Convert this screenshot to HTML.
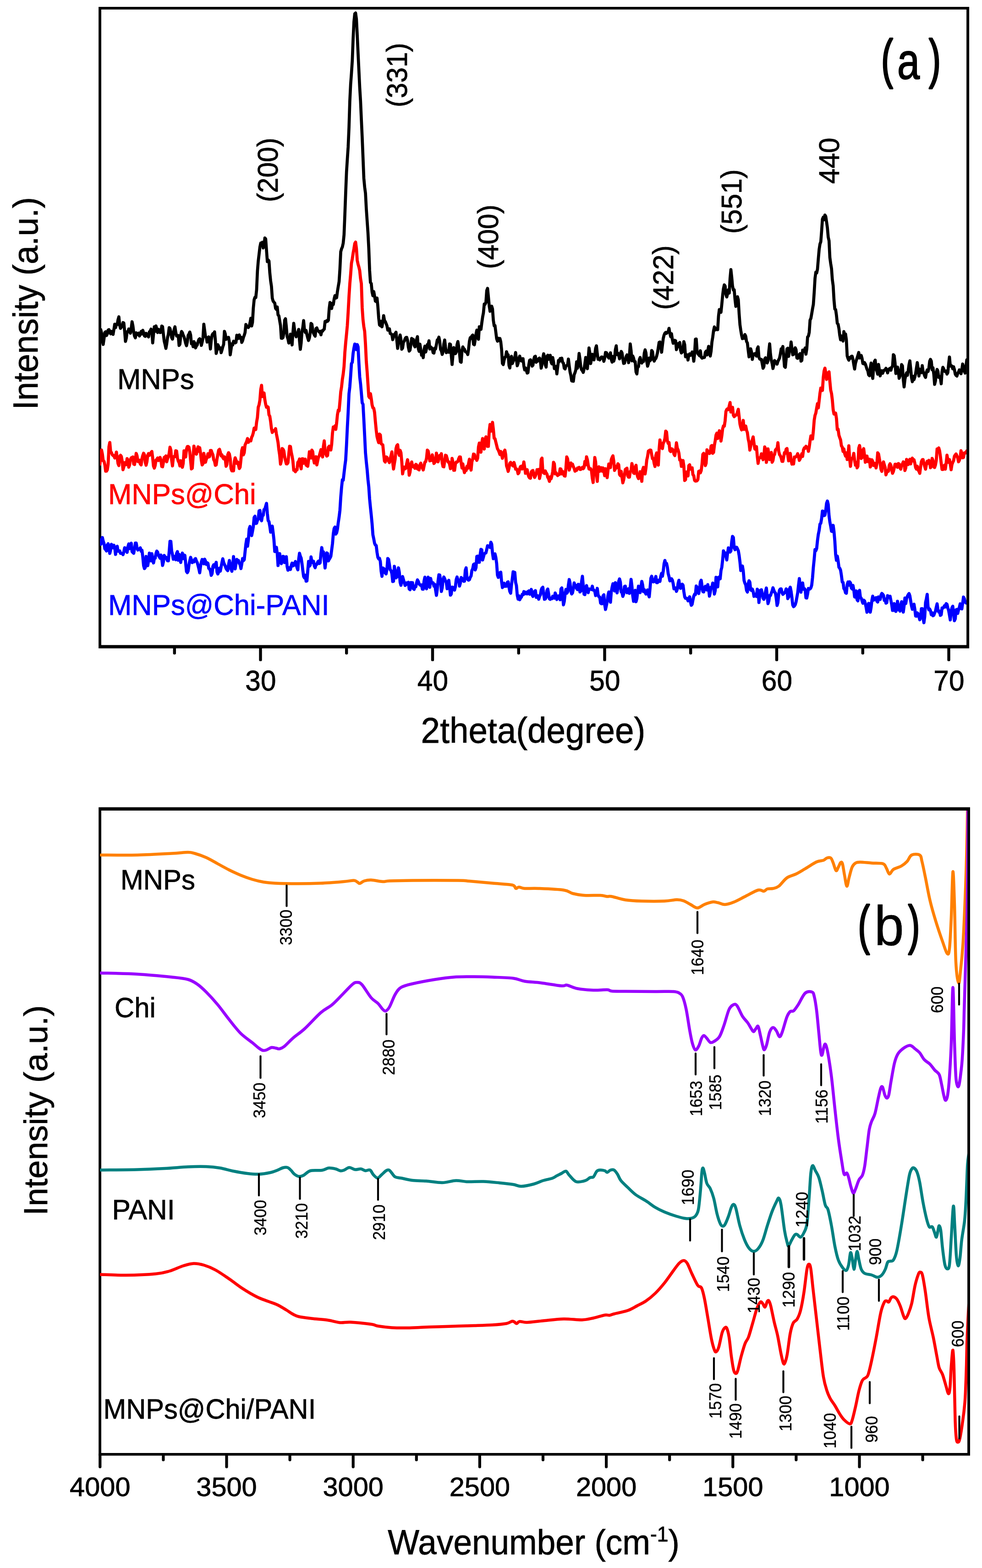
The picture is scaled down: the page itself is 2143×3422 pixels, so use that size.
<!DOCTYPE html>
<html lang="en"><head><meta charset="utf-8"><title>XRD and FTIR</title>
<style>html,body{margin:0;padding:0;background:#fff}body{width:2143px;height:3422px;overflow:hidden}svg{display:block}text{font-family:'Liberation Sans', sans-serif}</style>
</head><body>
<svg width="2143" height="3422" viewBox="0 0 2143 3422">
<rect width="2143" height="3422" fill="#fff"/>
<g id="xrd">
<path d="M215.1,14.9H2115.1V1415.0H215.1Z M221.0,20.8H2109.1V1407.7H221.0Z" fill="#000" fill-rule="evenodd"/>
<clipPath id="ca"><rect x="218.0" y="20.8" width="1891.1" height="1386.9"/></clipPath>
<g clip-path="url(#ca)" fill="none" stroke-linejoin="round" stroke-linecap="round">
<polyline points="218.0,1178.1 219.8,1187.9 221.6,1185.5 223.4,1173.1 225.2,1181.0 227.0,1186.1 228.8,1197.6 230.6,1199.5 232.4,1202.4 234.2,1189.2 236.0,1186.7 237.8,1197.3 239.6,1207.7 241.4,1200.5 243.2,1187.9 245.0,1193.8 246.8,1195.3 248.6,1190.0 250.4,1196.0 252.2,1210.0 254.0,1198.7 255.8,1192.1 257.6,1202.9 259.4,1203.1 261.2,1202.2 263.0,1207.6 264.8,1207.6 266.6,1207.8 268.4,1210.4 270.2,1204.5 272.0,1195.4 273.8,1196.5 275.6,1201.7 277.4,1205.4 279.2,1193.1 281.0,1187.0 282.8,1197.4 284.6,1187.8 286.4,1185.7 288.2,1203.7 290.0,1205.8 291.8,1207.5 293.6,1197.2 295.4,1185.1 297.2,1185.2 299.0,1195.5 300.8,1200.4 302.6,1198.7 304.4,1198.4 306.2,1195.7 308.0,1203.0 309.8,1200.9 311.6,1215.1 313.4,1234.3 315.2,1240.9 317.0,1238.4 318.8,1214.4 320.6,1224.5 322.4,1234.5 324.2,1222.9 326.0,1207.2 327.8,1216.2 329.6,1224.1 331.4,1208.3 333.2,1218.9 335.0,1228.5 336.8,1219.0 338.6,1218.3 340.4,1208.0 342.2,1202.7 344.0,1205.1 345.8,1211.8 347.6,1215.1 349.4,1218.2 351.2,1211.2 353.0,1219.1 354.8,1234.1 356.6,1226.3 358.4,1212.1 360.2,1217.1 362.0,1216.0 363.8,1219.8 365.6,1223.9 367.4,1223.9 369.2,1204.1 371.0,1181.5 372.8,1181.6 374.6,1202.4 376.4,1210.6 378.2,1220.5 380.0,1217.3 381.8,1214.2 383.6,1221.6 385.4,1207.8 387.2,1203.8 389.0,1222.6 390.8,1209.9 392.6,1219.3 394.4,1227.6 396.2,1215.9 398.0,1207.0 399.8,1219.1 401.6,1211.3 403.4,1212.1 405.2,1229.4 407.0,1247.3 408.8,1249.8 410.6,1246.3 412.4,1232.6 414.2,1223.8 416.0,1216.3 417.8,1221.5 419.6,1227.7 421.4,1225.5 423.2,1226.2 425.0,1220.4 426.8,1219.0 428.6,1224.3 430.4,1227.6 432.2,1234.2 434.0,1241.3 435.8,1250.1 437.6,1236.4 439.4,1226.5 441.2,1220.9 443.0,1228.1 444.8,1230.3 446.6,1220.4 448.4,1224.4 450.2,1231.8 452.0,1228.1 453.8,1229.4 455.6,1240.7 457.4,1241.4 459.2,1245.9 461.0,1255.6 462.8,1252.0 464.6,1236.2 466.4,1232.5 468.2,1237.4 470.0,1232.1 471.8,1227.2 473.6,1248.3 475.4,1252.6 477.2,1248.2 479.0,1240.0 480.8,1246.4 482.6,1236.9 484.4,1227.6 486.2,1219.5 488.0,1227.1 489.8,1231.9 491.6,1235.4 493.4,1240.7 495.2,1243.4 497.0,1245.3 498.8,1232.6 500.6,1223.2 502.4,1231.6 504.2,1241.5 506.0,1246.7 507.8,1235.1 509.6,1214.7 511.4,1230.3 513.2,1241.5 515.0,1230.2 516.8,1220.9 518.6,1223.2 520.4,1223.2 522.2,1229.4 524.0,1232.8 525.8,1240.9 527.6,1231.0 529.4,1219.0 531.2,1223.5 533.0,1221.3 534.8,1204.3 536.6,1187.5 538.4,1176.6 540.2,1192.0 542.0,1178.3 543.8,1154.6 545.6,1148.9 547.4,1164.1 549.2,1168.9 551.0,1159.6 552.8,1149.3 554.6,1129.4 556.4,1126.7 558.2,1142.4 560.0,1141.9 561.8,1135.6 563.6,1132.8 565.4,1114.8 567.2,1114.1 569.0,1130.7 570.8,1136.5 572.6,1125.2 574.4,1124.5 576.2,1112.1 578.0,1110.9 579.8,1104.8 581.6,1098.4 583.4,1120.3 585.2,1136.3 587.0,1138.3 588.8,1148.6 590.6,1161.4 592.4,1150.0 594.2,1148.3 596.0,1162.3 597.8,1177.9 599.6,1203.5 601.4,1203.4 603.2,1194.4 605.0,1207.6 606.8,1234.2 608.6,1214.2 610.4,1208.3 612.2,1221.1 614.0,1230.1 615.8,1225.1 617.6,1214.2 619.4,1214.7 621.2,1227.7 623.0,1222.1 624.8,1214.9 626.6,1236.6 628.4,1244.4 630.2,1238.7 632.0,1240.2 633.8,1242.8 635.6,1234.1 637.4,1229.0 639.2,1234.9 641.0,1229.8 642.8,1233.2 644.6,1225.4 646.4,1230.2 648.2,1238.7 650.0,1243.5 651.8,1220.4 653.6,1207.4 655.4,1214.0 657.2,1218.0 659.0,1229.7 660.8,1244.8 662.6,1258.0 664.4,1261.2 666.2,1255.2 668.0,1268.3 669.8,1268.0 671.6,1246.1 673.4,1225.1 675.2,1235.6 677.0,1233.2 678.8,1215.5 680.6,1226.2 682.4,1227.8 684.2,1224.8 686.0,1235.3 687.8,1238.9 689.6,1231.6 691.4,1231.7 693.2,1226.9 695.0,1224.5 696.8,1229.7 698.6,1228.3 700.4,1208.7 702.2,1195.0 704.0,1207.5 705.8,1204.4 707.6,1222.2 709.4,1239.6 711.2,1224.7 713.0,1206.7 714.8,1207.9 716.6,1224.2 718.4,1220.6 720.2,1217.8 722.0,1214.1 723.8,1200.3 725.6,1186.4 727.4,1164.5 729.2,1153.4 731.0,1150.3 732.8,1165.5 734.6,1162.9 736.4,1154.8 738.2,1140.4 740.0,1128.6 741.8,1113.8 743.6,1085.4 745.4,1063.7 747.2,1047.2 749.0,1048.1 750.8,1032.3 752.6,1016.9 754.4,1003.5 756.2,971.0 758.0,932.8 759.8,899.5 761.6,859.4 763.4,844.1 765.2,820.1 767.0,793.5 768.8,790.7 770.6,771.0 772.4,759.6 774.2,750.9 776.0,758.5 777.8,762.9 779.6,752.0 781.4,757.0 783.2,791.6 785.0,822.3 786.8,837.3 788.6,857.7 790.4,879.0 792.2,882.3 794.0,915.6 795.8,951.3 797.6,988.3 799.4,1008.0 801.2,1024.9 803.0,1046.4 804.8,1062.6 806.6,1089.0 808.4,1107.3 810.2,1124.4 812.0,1143.2 813.8,1167.3 815.6,1175.7 817.4,1185.5 819.2,1189.5 821.0,1190.7 822.8,1205.5 824.6,1216.3 826.4,1219.5 828.2,1218.6 830.0,1225.4 831.8,1246.9 833.6,1257.8 835.4,1239.7 837.2,1240.5 839.0,1242.7 840.8,1250.4 842.6,1252.4 844.4,1242.3 846.2,1218.8 848.0,1220.9 849.8,1232.4 851.6,1243.4 853.4,1245.3 855.2,1252.1 857.0,1269.2 858.8,1268.5 860.6,1236.0 862.4,1246.1 864.2,1261.1 866.0,1259.3 867.8,1249.6 869.6,1239.3 871.4,1248.8 873.2,1270.8 875.0,1277.3 876.8,1267.5 878.6,1258.3 880.4,1264.8 882.2,1271.0 884.0,1277.6 885.8,1276.0 887.6,1272.0 889.4,1272.7 891.2,1270.9 893.0,1285.5 894.8,1287.0 896.6,1271.3 898.4,1271.8 900.2,1271.6 902.0,1284.7 903.8,1286.3 905.6,1279.0 907.4,1280.5 909.2,1271.8 911.0,1265.6 912.8,1268.7 914.6,1274.1 916.4,1276.4 918.2,1277.5 920.0,1276.6 921.8,1285.8 923.6,1285.9 925.4,1268.2 927.2,1259.7 929.0,1279.1 930.8,1285.0 932.6,1270.6 934.4,1259.6 936.2,1276.1 938.0,1281.7 939.8,1262.4 941.6,1271.2 943.4,1272.2 945.2,1271.9 947.0,1279.2 948.8,1275.4 950.6,1288.0 952.4,1299.3 954.2,1286.6 956.0,1267.8 957.8,1254.5 959.6,1254.8 961.4,1266.6 963.2,1290.8 965.0,1283.0 966.8,1265.8 968.6,1259.2 970.4,1262.9 972.2,1267.6 974.0,1271.4 975.8,1284.9 977.6,1271.9 979.4,1266.4 981.2,1281.9 983.0,1298.9 984.8,1296.4 986.6,1281.4 988.4,1281.8 990.2,1285.4 992.0,1287.8 993.8,1280.5 995.6,1265.1 997.4,1259.3 999.2,1265.3 1001.0,1266.0 1002.8,1279.1 1004.6,1272.6 1006.4,1260.4 1008.2,1262.3 1010.0,1263.8 1011.8,1268.5 1013.6,1268.3 1015.4,1244.7 1017.2,1239.3 1019.0,1260.0 1020.8,1264.9 1022.6,1266.2 1024.4,1265.0 1026.2,1259.9 1028.0,1257.0 1029.8,1244.9 1031.6,1241.1 1033.4,1231.8 1035.2,1230.7 1037.0,1243.8 1038.8,1238.6 1040.6,1214.3 1042.4,1213.8 1044.2,1227.0 1046.0,1227.2 1047.8,1210.2 1049.6,1198.9 1051.4,1199.9 1053.2,1222.2 1055.0,1215.5 1056.8,1208.8 1058.6,1207.3 1060.4,1206.7 1062.2,1199.1 1064.0,1190.9 1065.8,1192.3 1067.6,1192.7 1069.4,1194.7 1071.2,1183.4 1073.0,1187.6 1074.8,1207.2 1076.6,1219.3 1078.4,1212.9 1080.2,1208.7 1082.0,1216.3 1083.8,1229.5 1085.6,1255.0 1087.4,1260.1 1089.2,1258.8 1091.0,1249.8 1092.8,1248.8 1094.6,1269.2 1096.4,1282.4 1098.2,1275.2 1100.0,1272.8 1101.8,1279.6 1103.6,1276.7 1105.4,1279.3 1107.2,1270.7 1109.0,1269.7 1110.8,1281.9 1112.6,1290.8 1114.4,1294.7 1116.2,1276.7 1118.0,1262.9 1119.8,1247.9 1121.6,1248.7 1123.4,1249.3 1125.2,1270.9 1127.0,1278.0 1128.8,1298.8 1130.6,1307.5 1132.4,1300.3 1134.2,1308.9 1136.0,1305.0 1137.8,1303.2 1139.6,1297.3 1141.4,1297.9 1143.2,1291.0 1145.0,1296.3 1146.8,1292.5 1148.6,1292.7 1150.4,1296.1 1152.2,1291.0 1154.0,1289.5 1155.8,1296.7 1157.6,1295.2 1159.4,1286.3 1161.2,1298.3 1163.0,1301.6 1164.8,1292.1 1166.6,1290.6 1168.4,1289.0 1170.2,1303.7 1172.0,1299.9 1173.8,1300.4 1175.6,1307.7 1177.4,1301.7 1179.2,1298.5 1181.0,1287.7 1182.8,1283.3 1184.6,1281.7 1186.4,1295.7 1188.2,1307.9 1190.0,1307.1 1191.8,1303.6 1193.6,1288.8 1195.4,1285.5 1197.2,1295.9 1199.0,1306.9 1200.8,1308.0 1202.6,1306.0 1204.4,1306.6 1206.2,1301.2 1208.0,1302.2 1209.8,1305.4 1211.6,1294.1 1213.4,1298.8 1215.2,1308.3 1217.0,1302.8 1218.8,1300.5 1220.6,1302.1 1222.4,1308.9 1224.2,1285.4 1226.0,1283.2 1227.8,1299.3 1229.6,1320.0 1231.4,1312.4 1233.2,1295.9 1235.0,1286.4 1236.8,1294.7 1238.6,1292.2 1240.4,1276.8 1242.2,1264.8 1244.0,1272.4 1245.8,1290.3 1247.6,1296.2 1249.4,1293.9 1251.2,1284.5 1253.0,1272.1 1254.8,1278.5 1256.6,1277.4 1258.4,1284.4 1260.2,1286.7 1262.0,1275.3 1263.8,1275.8 1265.6,1291.8 1267.4,1290.0 1269.2,1269.2 1271.0,1257.7 1272.8,1277.9 1274.6,1296.9 1276.4,1297.7 1278.2,1282.9 1280.0,1277.9 1281.8,1286.4 1283.6,1293.4 1285.4,1285.4 1287.2,1285.8 1289.0,1285.5 1290.8,1286.5 1292.6,1279.2 1294.4,1287.7 1296.2,1287.7 1298.0,1290.6 1299.8,1299.8 1301.6,1298.0 1303.4,1284.0 1305.2,1297.8 1307.0,1302.7 1308.8,1302.9 1310.6,1316.1 1312.4,1317.6 1314.2,1317.3 1316.0,1300.5 1317.8,1298.0 1319.6,1319.5 1321.4,1330.1 1323.2,1322.0 1325.0,1313.4 1326.8,1299.2 1328.6,1291.9 1330.4,1305.5 1332.2,1314.4 1334.0,1291.6 1335.8,1281.6 1337.6,1273.9 1339.4,1286.9 1341.2,1289.7 1343.0,1271.6 1344.8,1278.2 1346.6,1293.9 1348.4,1284.6 1350.2,1268.8 1352.0,1263.4 1353.8,1270.3 1355.6,1291.6 1357.4,1293.2 1359.2,1301.6 1361.0,1296.7 1362.8,1279.9 1364.6,1279.2 1366.4,1291.1 1368.2,1293.5 1370.0,1289.9 1371.8,1284.8 1373.6,1295.0 1375.4,1281.7 1377.2,1264.3 1379.0,1278.8 1380.8,1300.1 1382.6,1312.3 1384.4,1291.4 1386.2,1288.4 1388.0,1313.2 1389.8,1306.4 1391.6,1291.2 1393.4,1279.3 1395.2,1281.7 1397.0,1293.3 1398.8,1281.1 1400.6,1268.9 1402.4,1276.3 1404.2,1291.0 1406.0,1286.7 1407.8,1292.7 1409.6,1296.4 1411.4,1292.5 1413.2,1287.4 1415.0,1297.7 1416.8,1302.6 1418.6,1283.4 1420.4,1262.1 1422.2,1257.6 1424.0,1268.8 1425.8,1269.9 1427.6,1269.1 1429.4,1264.3 1431.2,1257.9 1433.0,1271.6 1434.8,1271.6 1436.6,1266.2 1438.4,1267.3 1440.2,1268.8 1442.0,1257.5 1443.8,1251.2 1445.6,1257.6 1447.4,1246.4 1449.2,1230.4 1451.0,1223.1 1452.8,1231.0 1454.6,1229.6 1456.4,1238.0 1458.2,1251.9 1460.0,1258.7 1461.8,1267.7 1463.6,1266.4 1465.4,1263.1 1467.2,1265.9 1469.0,1273.4 1470.8,1285.0 1472.6,1284.0 1474.4,1283.2 1476.2,1290.6 1478.0,1285.9 1479.8,1273.4 1481.6,1266.4 1483.4,1280.4 1485.2,1284.0 1487.0,1279.7 1488.8,1274.9 1490.6,1277.3 1492.4,1291.3 1494.2,1302.5 1496.0,1305.8 1497.8,1305.7 1499.6,1306.0 1501.4,1311.2 1503.2,1307.9 1505.0,1302.4 1506.8,1313.5 1508.6,1321.0 1510.4,1318.9 1512.2,1309.2 1514.0,1301.0 1515.8,1296.8 1517.6,1297.6 1519.4,1278.9 1521.2,1282.0 1523.0,1290.0 1524.8,1295.3 1526.6,1285.5 1528.4,1270.0 1530.2,1266.3 1532.0,1278.7 1533.8,1291.1 1535.6,1291.9 1537.4,1285.7 1539.2,1279.4 1541.0,1284.3 1542.8,1287.5 1544.6,1275.9 1546.4,1284.7 1548.2,1301.1 1550.0,1292.8 1551.8,1281.5 1553.6,1280.8 1555.4,1272.5 1557.2,1278.3 1559.0,1296.5 1560.8,1288.9 1562.6,1259.8 1564.4,1270.9 1566.2,1280.9 1568.0,1259.9 1569.8,1259.3 1571.6,1263.1 1573.4,1245.3 1575.2,1238.0 1577.0,1221.9 1578.8,1202.2 1580.6,1206.7 1582.4,1206.5 1584.2,1213.9 1586.0,1222.1 1587.8,1207.4 1589.6,1195.6 1591.4,1199.9 1593.2,1204.8 1595.0,1202.5 1596.8,1182.3 1598.6,1170.6 1600.4,1173.0 1602.2,1195.6 1604.0,1199.7 1605.8,1194.3 1607.6,1194.4 1609.4,1197.9 1611.2,1201.8 1613.0,1212.1 1614.8,1226.5 1616.6,1245.1 1618.4,1243.1 1620.2,1235.3 1622.0,1246.0 1623.8,1267.0 1625.6,1272.8 1627.4,1276.4 1629.2,1288.5 1631.0,1292.1 1632.8,1273.8 1634.6,1267.4 1636.4,1270.7 1638.2,1287.4 1640.0,1288.6 1641.8,1285.6 1643.6,1290.7 1645.4,1301.5 1647.2,1297.7 1649.0,1296.6 1650.8,1301.7 1652.6,1285.9 1654.4,1289.7 1656.2,1314.9 1658.0,1300.2 1659.8,1288.0 1661.6,1287.1 1663.4,1295.4 1665.2,1305.3 1667.0,1308.0 1668.8,1302.7 1670.6,1290.9 1672.4,1283.2 1674.2,1299.8 1676.0,1317.3 1677.8,1311.5 1679.6,1299.7 1681.4,1299.7 1683.2,1294.2 1685.0,1289.9 1686.8,1282.7 1688.6,1287.8 1690.4,1292.5 1692.2,1293.9 1694.0,1306.1 1695.8,1321.4 1697.6,1315.2 1699.4,1296.4 1701.2,1287.8 1703.0,1285.3 1704.8,1285.2 1706.6,1293.3 1708.4,1297.2 1710.2,1295.5 1712.0,1293.7 1713.8,1291.2 1715.6,1285.2 1717.4,1287.6 1719.2,1306.3 1721.0,1303.3 1722.8,1285.3 1724.6,1281.6 1726.4,1290.7 1728.2,1304.2 1730.0,1320.4 1731.8,1323.9 1733.6,1322.5 1735.4,1319.7 1737.2,1313.6 1739.0,1303.6 1740.8,1293.6 1742.6,1276.8 1744.4,1262.7 1746.2,1278.2 1748.0,1292.4 1749.8,1276.0 1751.6,1272.2 1753.4,1286.0 1755.2,1284.5 1757.0,1286.3 1758.8,1304.6 1760.6,1305.1 1762.4,1296.4 1764.2,1284.3 1766.0,1285.8 1767.8,1285.1 1769.6,1282.7 1771.4,1276.9 1773.2,1260.5 1775.0,1237.8 1776.8,1220.2 1778.6,1199.4 1780.4,1201.8 1782.2,1196.8 1784.0,1179.6 1785.8,1166.3 1787.6,1157.6 1789.4,1144.0 1791.2,1141.8 1793.0,1131.6 1794.8,1115.3 1796.6,1116.0 1798.4,1125.2 1800.2,1124.2 1802.0,1114.1 1803.8,1098.5 1805.6,1093.4 1807.4,1100.7 1809.2,1125.5 1811.0,1139.1 1812.8,1148.6 1814.6,1159.4 1816.4,1159.9 1818.2,1146.5 1820.0,1160.0 1821.8,1180.5 1823.6,1210.3 1825.4,1222.8 1827.2,1213.7 1829.0,1223.9 1830.8,1238.0 1832.6,1240.1 1834.4,1244.5 1836.2,1255.8 1838.0,1270.1 1839.8,1271.2 1841.6,1284.5 1843.4,1286.9 1845.2,1293.7 1847.0,1294.7 1848.8,1276.0 1850.6,1270.0 1852.4,1277.1 1854.2,1269.8 1856.0,1272.1 1857.8,1283.2 1859.6,1285.4 1861.4,1277.6 1863.2,1287.1 1865.0,1302.7 1866.8,1303.3 1868.6,1289.6 1870.4,1308.7 1872.2,1311.3 1874.0,1292.1 1875.8,1288.4 1877.6,1303.3 1879.4,1305.5 1881.2,1311.3 1883.0,1316.5 1884.8,1309.7 1886.6,1311.3 1888.4,1317.3 1890.2,1325.8 1892.0,1336.1 1893.8,1333.0 1895.6,1316.8 1897.4,1317.5 1899.2,1336.0 1901.0,1325.4 1902.8,1310.0 1904.6,1301.0 1906.4,1309.8 1908.2,1307.1 1910.0,1305.6 1911.8,1304.4 1913.6,1312.0 1915.4,1313.9 1917.2,1302.8 1919.0,1304.0 1920.8,1308.3 1922.6,1298.9 1924.4,1295.1 1926.2,1296.7 1928.0,1299.4 1929.8,1310.1 1931.6,1307.3 1933.4,1316.3 1935.2,1315.3 1937.0,1299.8 1938.8,1303.3 1940.6,1303.2 1942.4,1301.3 1944.2,1310.6 1946.0,1319.7 1947.8,1332.2 1949.6,1332.1 1951.4,1317.3 1953.2,1320.2 1955.0,1334.4 1956.8,1330.8 1958.6,1312.1 1960.4,1326.5 1962.2,1330.9 1964.0,1333.7 1965.8,1319.9 1967.6,1313.1 1969.4,1324.8 1971.2,1335.8 1973.0,1322.1 1974.8,1305.2 1976.6,1317.1 1978.4,1306.4 1980.2,1301.3 1982.0,1297.8 1983.8,1295.4 1985.6,1300.5 1987.4,1311.6 1989.2,1322.7 1991.0,1329.7 1992.8,1326.3 1994.6,1318.6 1996.4,1329.5 1998.2,1344.5 2000.0,1344.8 2001.8,1337.5 2003.6,1339.6 2005.4,1346.0 2007.2,1352.5 2009.0,1347.5 2010.8,1328.3 2012.6,1328.3 2014.4,1348.7 2016.2,1359.0 2018.0,1346.1 2019.8,1315.1 2021.6,1306.9 2023.4,1297.1 2025.2,1323.6 2027.0,1330.9 2028.8,1329.1 2030.6,1332.9 2032.4,1341.6 2034.2,1337.4 2036.0,1343.7 2037.8,1342.8 2039.6,1337.9 2041.4,1334.0 2043.2,1325.2 2045.0,1317.8 2046.8,1330.2 2048.6,1335.8 2050.4,1334.2 2052.2,1343.0 2054.0,1341.7 2055.8,1326.8 2057.6,1327.2 2059.4,1325.2 2061.2,1321.9 2063.0,1324.6 2064.8,1317.4 2066.6,1318.7 2068.4,1326.8 2070.2,1332.4 2072.0,1342.3 2073.8,1352.9 2075.6,1334.6 2077.4,1326.4 2079.2,1323.1 2081.0,1338.3 2082.8,1354.7 2084.6,1350.6 2086.4,1330.8 2088.2,1330.0 2090.0,1338.6 2091.8,1331.0 2093.6,1325.7 2095.4,1317.7 2097.2,1328.3 2099.0,1328.8 2100.8,1316.4 2102.6,1303.0 2104.4,1306.4 2106.2,1313.8 2108.0,1315.9 2109.8,1314.1 2111.6,1314.5 2113.4,1324.0" stroke="#0000ff" stroke-width="6.8"/>
<polyline points="218.0,1013.0 219.8,999.0 221.6,982.1 223.4,990.9 225.2,1005.7 227.0,1006.5 228.8,1014.1 230.6,1028.4 232.4,1028.2 234.2,1025.2 236.0,1013.1 237.8,974.8 239.6,965.6 241.4,985.3 243.2,987.8 245.0,992.3 246.8,994.4 248.6,994.2 250.4,999.5 252.2,995.2 254.0,986.6 255.8,999.1 257.6,1011.7 259.4,1016.0 261.2,996.5 263.0,993.7 264.8,996.0 266.6,1006.3 268.4,1025.0 270.2,1019.0 272.0,1009.6 273.8,1014.2 275.6,1014.0 277.4,1000.8 279.2,1004.4 281.0,1019.5 282.8,1014.8 284.6,1003.2 286.4,999.1 288.2,998.3 290.0,997.3 291.8,1012.8 293.6,1013.8 295.4,1003.0 297.2,989.5 299.0,994.6 300.8,1007.2 302.6,1007.6 304.4,1004.2 306.2,1012.7 308.0,1014.5 309.8,1001.1 311.6,994.2 313.4,989.1 315.2,992.5 317.0,1009.2 318.8,1015.2 320.6,1007.8 322.4,993.6 324.2,989.8 326.0,993.6 327.8,990.7 329.6,987.6 331.4,985.3 333.2,999.7 335.0,1017.3 336.8,1021.6 338.6,1015.9 340.4,1004.1 342.2,1002.5 344.0,999.5 345.8,1005.1 347.6,1000.5 349.4,998.3 351.2,1004.3 353.0,1018.0 354.8,1018.7 356.6,1009.2 358.4,998.1 360.2,997.3 362.0,995.2 363.8,1007.7 365.6,1001.4 367.4,996.7 369.2,989.4 371.0,976.0 372.8,981.9 374.6,1004.0 376.4,1016.9 378.2,999.4 380.0,995.9 381.8,996.6 383.6,983.8 385.4,984.2 387.2,999.5 389.0,1006.4 390.8,1009.5 392.6,1016.9 394.4,1005.5 396.2,1006.7 398.0,1019.9 399.8,1011.4 401.6,983.9 403.4,987.7 405.2,997.2 407.0,980.3 408.8,974.6 410.6,974.3 412.4,976.2 414.2,986.8 416.0,1005.5 417.8,1023.4 419.6,1021.7 421.4,996.8 423.2,973.6 425.0,981.4 426.8,987.5 428.6,991.3 430.4,983.6 432.2,975.1 434.0,984.8 435.8,977.0 437.6,988.8 439.4,1004.6 441.2,1014.6 443.0,1011.8 444.8,989.3 446.6,1000.3 448.4,1008.9 450.2,1002.2 452.0,998.6 453.8,990.1 455.6,997.3 457.4,996.4 459.2,983.2 461.0,983.1 462.8,988.3 464.6,992.5 466.4,1003.3 468.2,1006.5 470.0,1015.5 471.8,1014.5 473.6,1001.4 475.4,991.8 477.2,982.4 479.0,980.7 480.8,986.5 482.6,994.7 484.4,992.7 486.2,998.6 488.0,1001.2 489.8,997.0 491.6,1001.6 493.4,1017.5 495.2,1013.7 497.0,992.4 498.8,987.9 500.6,991.0 502.4,1001.4 504.2,1022.6 506.0,1027.7 507.8,1027.6 509.6,1027.5 511.4,1007.0 513.2,999.1 515.0,1004.2 516.8,1011.3 518.6,1008.1 520.4,1014.4 522.2,1022.6 524.0,1019.5 525.8,1002.9 527.6,982.9 529.4,977.0 531.2,992.7 533.0,987.8 534.8,971.1 536.6,967.1 538.4,963.0 540.2,957.0 542.0,965.4 543.8,960.8 545.6,960.1 547.4,962.1 549.2,954.3 551.0,950.7 552.8,944.3 554.6,934.4 556.4,933.6 558.2,937.4 560.0,921.1 561.8,911.1 563.6,888.6 565.4,883.4 567.2,873.2 569.0,850.2 570.8,840.9 572.6,865.4 574.4,858.1 576.2,857.6 578.0,872.4 579.8,882.5 581.6,888.8 583.4,887.4 585.2,888.6 587.0,905.4 588.8,908.5 590.6,920.3 592.4,935.5 594.2,943.8 596.0,939.6 597.8,939.8 599.6,940.4 601.4,935.4 603.2,947.1 605.0,956.0 606.8,965.9 608.6,981.8 610.4,993.6 612.2,1013.0 614.0,1005.2 615.8,978.8 617.6,980.3 619.4,983.9 621.2,997.1 623.0,1004.8 624.8,1012.3 626.6,1012.4 628.4,1009.6 630.2,991.5 632.0,974.0 633.8,974.6 635.6,987.0 637.4,995.3 639.2,1005.9 641.0,1026.3 642.8,1026.6 644.6,1029.5 646.4,1024.9 648.2,1025.5 650.0,1008.8 651.8,1007.0 653.6,1001.8 655.4,1015.8 657.2,1023.1 659.0,1001.3 660.8,1001.1 662.6,1011.0 664.4,1006.4 666.2,1002.1 668.0,1015.0 669.8,1016.1 671.6,1017.5 673.4,1003.7 675.2,986.0 677.0,991.4 678.8,999.6 680.6,982.4 682.4,985.7 684.2,1001.5 686.0,1010.5 687.8,1003.9 689.6,996.7 691.4,1014.5 693.2,1005.7 695.0,997.6 696.8,994.7 698.6,988.1 700.4,981.3 702.2,990.3 704.0,997.3 705.8,974.2 707.6,962.2 709.4,984.4 711.2,991.4 713.0,995.3 714.8,994.2 716.6,975.9 718.4,973.9 720.2,978.7 722.0,982.0 723.8,969.8 725.6,944.9 727.4,931.8 729.2,932.6 731.0,929.7 732.8,937.1 734.6,923.3 736.4,905.0 738.2,895.3 740.0,896.5 741.8,876.8 743.6,855.4 745.4,844.2 747.2,827.6 749.0,816.1 750.8,799.9 752.6,768.7 754.4,747.6 756.2,729.4 758.0,710.2 759.8,680.7 761.6,647.4 763.4,619.2 765.2,598.4 767.0,574.5 768.8,565.1 770.6,552.7 772.4,542.9 774.2,531.5 776.0,528.4 777.8,542.4 779.6,568.1 781.4,576.6 783.2,582.8 785.0,590.6 786.8,607.8 788.6,619.1 790.4,671.7 792.2,697.9 794.0,713.0 795.8,723.2 797.6,751.2 799.4,788.8 801.2,811.5 803.0,838.4 804.8,865.1 806.6,868.1 808.4,859.1 810.2,869.8 812.0,883.5 813.8,890.2 815.6,890.9 817.4,899.7 819.2,920.1 821.0,938.7 822.8,952.9 824.6,960.2 826.4,966.1 828.2,947.4 830.0,949.1 831.8,968.2 833.6,969.9 835.4,971.0 837.2,989.5 839.0,1006.1 840.8,1008.3 842.6,997.2 844.4,998.1 846.2,1002.8 848.0,1006.2 849.8,1009.5 851.6,1000.6 853.4,994.6 855.2,986.1 857.0,1008.6 858.8,1023.5 860.6,1011.7 862.4,1001.3 864.2,979.2 866.0,972.5 867.8,970.6 869.6,987.9 871.4,993.8 873.2,982.8 875.0,988.0 876.8,1007.7 878.6,1034.2 880.4,1024.4 882.2,1019.4 884.0,1023.2 885.8,1021.7 887.6,1011.6 889.4,1003.3 891.2,1014.2 893.0,1037.1 894.8,1030.3 896.6,1014.8 898.4,1008.1 900.2,1016.5 902.0,1018.9 903.8,1016.8 905.6,1022.1 907.4,1013.4 909.2,1014.6 911.0,1023.2 912.8,1024.1 914.6,1025.4 916.4,1014.5 918.2,1010.9 920.0,1017.3 921.8,1021.3 923.6,1025.6 925.4,1017.0 927.2,1008.8 929.0,1007.5 930.8,1000.0 932.6,982.5 934.4,984.3 936.2,994.3 938.0,1005.7 939.8,1003.1 941.6,1004.7 943.4,992.7 945.2,1001.0 947.0,1011.5 948.8,1009.1 950.6,1006.7 952.4,988.8 954.2,999.3 956.0,1007.8 957.8,1001.3 959.6,994.0 961.4,998.9 963.2,990.0 965.0,1009.7 966.8,1018.3 968.6,1018.7 970.4,1006.3 972.2,993.5 974.0,994.5 975.8,1000.7 977.6,1008.1 979.4,1008.0 981.2,1013.8 983.0,1022.8 984.8,1021.0 986.6,1000.4 988.4,1008.4 990.2,1026.3 992.0,1026.2 993.8,1012.6 995.6,1008.4 997.4,1008.5 999.2,1007.1 1001.0,1001.1 1002.8,997.2 1004.6,997.3 1006.4,1010.0 1008.2,1021.3 1010.0,1012.3 1011.8,1023.6 1013.6,1031.5 1015.4,1022.9 1017.2,1026.8 1019.0,1017.6 1020.8,1022.2 1022.6,1010.7 1024.4,1002.1 1026.2,1016.2 1028.0,1026.0 1029.8,1007.9 1031.6,1001.6 1033.4,991.0 1035.2,991.5 1037.0,1000.3 1038.8,1000.4 1040.6,1004.7 1042.4,999.7 1044.2,975.2 1046.0,966.9 1047.8,976.9 1049.6,986.8 1051.4,966.2 1053.2,957.0 1055.0,969.3 1056.8,980.0 1058.6,959.9 1060.4,953.4 1062.2,960.3 1064.0,974.2 1065.8,974.0 1067.6,940.7 1069.4,926.4 1071.2,941.0 1073.0,940.7 1074.8,921.6 1076.6,936.8 1078.4,956.4 1080.2,957.4 1082.0,964.8 1083.8,971.9 1085.6,979.3 1087.4,982.3 1089.2,986.7 1091.0,991.9 1092.8,985.2 1094.6,991.6 1096.4,1000.2 1098.2,991.4 1100.0,985.9 1101.8,982.4 1103.6,992.4 1105.4,1016.6 1107.2,1021.8 1109.0,1028.8 1110.8,1021.4 1112.6,1011.0 1114.4,1009.1 1116.2,1012.7 1118.0,1015.5 1119.8,1017.0 1121.6,1009.2 1123.4,1015.6 1125.2,1023.7 1127.0,1023.1 1128.8,1026.3 1130.6,1033.9 1132.4,1031.7 1134.2,1022.5 1136.0,1018.1 1137.8,1017.4 1139.6,1023.4 1141.4,1018.2 1143.2,1008.1 1145.0,1020.3 1146.8,1032.9 1148.6,1030.1 1150.4,1024.9 1152.2,1034.9 1154.0,1040.3 1155.8,1043.1 1157.6,1043.7 1159.4,1030.1 1161.2,1027.6 1163.0,1026.8 1164.8,1036.2 1166.6,1042.1 1168.4,1038.6 1170.2,1033.4 1172.0,1025.0 1173.8,1025.4 1175.6,1024.6 1177.4,1044.3 1179.2,1035.9 1181.0,1002.9 1182.8,999.7 1184.6,1029.5 1186.4,1031.9 1188.2,1033.2 1190.0,1027.8 1191.8,1032.0 1193.6,1034.7 1195.4,1041.8 1197.2,1044.7 1199.0,1050.6 1200.8,1040.8 1202.6,1044.9 1204.4,1038.3 1206.2,1029.4 1208.0,1008.9 1209.8,1012.3 1211.6,1034.1 1213.4,1031.5 1215.2,1035.0 1217.0,1037.8 1218.8,1035.8 1220.6,1035.6 1222.4,1023.1 1224.2,1023.7 1226.0,1034.2 1227.8,1028.8 1229.6,1033.8 1231.4,1038.5 1233.2,1039.0 1235.0,1021.6 1236.8,997.2 1238.6,1001.1 1240.4,1014.6 1242.2,1025.9 1244.0,1019.6 1245.8,1010.4 1247.6,1012.9 1249.4,1012.9 1251.2,1018.6 1253.0,1022.3 1254.8,1028.2 1256.6,1026.8 1258.4,1026.4 1260.2,1021.3 1262.0,1021.6 1263.8,1020.0 1265.6,1024.5 1267.4,1024.5 1269.2,1021.2 1271.0,1019.9 1272.8,1022.8 1274.6,1020.1 1276.4,1007.3 1278.2,1014.8 1280.0,997.0 1281.8,1003.3 1283.6,1014.4 1285.4,1023.5 1287.2,1024.0 1289.0,1022.9 1290.8,1027.7 1292.6,1043.5 1294.4,1053.0 1296.2,1026.3 1298.0,998.5 1299.8,1008.0 1301.6,1032.1 1303.4,1050.5 1305.2,1024.3 1307.0,1018.7 1308.8,1028.5 1310.6,1026.4 1312.4,1020.8 1314.2,1028.2 1316.0,1021.3 1317.8,1028.7 1319.6,1038.1 1321.4,1022.8 1323.2,1027.8 1325.0,1042.4 1326.8,1026.5 1328.6,1012.6 1330.4,1016.6 1332.2,1020.5 1334.0,1003.0 1335.8,998.3 1337.6,994.8 1339.4,1006.4 1341.2,1026.6 1343.0,1022.9 1344.8,1017.9 1346.6,1020.5 1348.4,1012.1 1350.2,1014.4 1352.0,1035.4 1353.8,1037.9 1355.6,1028.6 1357.4,1041.7 1359.2,1053.7 1361.0,1047.1 1362.8,1036.5 1364.6,1024.6 1366.4,1023.0 1368.2,1021.8 1370.0,1038.4 1371.8,1041.4 1373.6,1041.3 1375.4,1029.3 1377.2,1026.4 1379.0,1011.7 1380.8,1019.0 1382.6,1032.2 1384.4,1033.1 1386.2,1023.0 1388.0,1015.4 1389.8,1033.6 1391.6,1040.8 1393.4,1044.4 1395.2,1040.9 1397.0,1029.5 1398.8,1039.3 1400.6,1050.4 1402.4,1025.6 1404.2,1020.0 1406.0,1021.8 1407.8,1034.3 1409.6,1021.6 1411.4,1003.9 1413.2,996.2 1415.0,984.3 1416.8,983.2 1418.6,982.1 1420.4,982.6 1422.2,992.6 1424.0,1001.1 1425.8,1000.7 1427.6,1011.4 1429.4,1018.0 1431.2,994.2 1433.0,988.5 1434.8,1009.9 1436.6,1015.0 1438.4,980.6 1440.2,960.1 1442.0,969.4 1443.8,977.0 1445.6,979.0 1447.4,967.3 1449.2,964.0 1451.0,957.2 1452.8,940.9 1454.6,942.8 1456.4,962.2 1458.2,967.7 1460.0,965.8 1461.8,983.5 1463.6,985.3 1465.4,979.5 1467.2,980.2 1469.0,983.4 1470.8,991.0 1472.6,994.2 1474.4,982.9 1476.2,966.5 1478.0,977.9 1479.8,981.9 1481.6,989.1 1483.4,1003.8 1485.2,1003.7 1487.0,1017.9 1488.8,1013.6 1490.6,1005.0 1492.4,1017.8 1494.2,1048.5 1496.0,1046.8 1497.8,1030.1 1499.6,1038.5 1501.4,1038.6 1503.2,1016.2 1505.0,1014.4 1506.8,1023.8 1508.6,1021.3 1510.4,1021.0 1512.2,1035.9 1514.0,1038.1 1515.8,1048.5 1517.6,1050.0 1519.4,1049.6 1521.2,1049.1 1523.0,1046.4 1524.8,1028.6 1526.6,1027.8 1528.4,1031.8 1530.2,1027.1 1532.0,1013.3 1533.8,991.7 1535.6,989.4 1537.4,1002.9 1539.2,1016.1 1541.0,1010.8 1542.8,981.6 1544.6,985.1 1546.4,988.8 1548.2,989.7 1550.0,987.1 1551.8,973.6 1553.6,972.3 1555.4,989.3 1557.2,987.3 1559.0,972.0 1560.8,961.8 1562.6,949.4 1564.4,945.4 1566.2,957.0 1568.0,949.1 1569.8,940.0 1571.6,947.1 1573.4,962.5 1575.2,951.0 1577.0,935.8 1578.8,929.4 1580.6,930.2 1582.4,918.4 1584.2,897.8 1586.0,893.6 1587.8,892.1 1589.6,893.9 1591.4,886.1 1593.2,878.4 1595.0,899.1 1596.8,897.3 1598.6,888.9 1600.4,906.1 1602.2,909.2 1604.0,907.5 1605.8,905.6 1607.6,905.5 1609.4,898.8 1611.2,893.3 1613.0,908.9 1614.8,925.4 1616.6,932.9 1618.4,938.2 1620.2,928.8 1622.0,917.5 1623.8,937.1 1625.6,934.0 1627.4,929.8 1629.2,939.0 1631.0,944.2 1632.8,957.9 1634.6,966.0 1636.4,982.3 1638.2,974.1 1640.0,964.9 1641.8,959.9 1643.6,953.5 1645.4,967.1 1647.2,979.6 1649.0,980.8 1650.8,974.7 1652.6,995.5 1654.4,1011.3 1656.2,1000.6 1658.0,998.8 1659.8,998.9 1661.6,990.4 1663.4,993.5 1665.2,1003.2 1667.0,995.3 1668.8,975.4 1670.6,979.7 1672.4,1009.1 1674.2,998.5 1676.0,979.6 1677.8,992.8 1679.6,1003.0 1681.4,994.9 1683.2,987.4 1685.0,1008.8 1686.8,1005.3 1688.6,993.9 1690.4,991.8 1692.2,982.4 1694.0,979.7 1695.8,979.5 1697.6,966.2 1699.4,984.9 1701.2,992.2 1703.0,994.6 1704.8,999.5 1706.6,1006.9 1708.4,1006.9 1710.2,997.0 1712.0,987.8 1713.8,989.0 1715.6,980.3 1717.4,978.9 1719.2,994.3 1721.0,1005.6 1722.8,1004.9 1724.6,989.5 1726.4,1003.6 1728.2,1012.8 1730.0,1011.6 1731.8,1012.5 1733.6,997.5 1735.4,997.8 1737.2,996.7 1739.0,994.3 1740.8,990.1 1742.6,996.3 1744.4,1004.7 1746.2,1001.4 1748.0,994.9 1749.8,990.3 1751.6,996.2 1753.4,981.8 1755.2,977.6 1757.0,978.4 1758.8,973.9 1760.6,975.6 1762.4,977.6 1764.2,985.0 1766.0,975.8 1767.8,962.1 1769.6,951.4 1771.4,955.9 1773.2,957.9 1775.0,940.2 1776.8,917.4 1778.6,906.5 1780.4,901.3 1782.2,890.5 1784.0,880.9 1785.8,890.2 1787.6,874.5 1789.4,858.2 1791.2,847.0 1793.0,848.8 1794.8,852.0 1796.6,824.2 1798.4,809.6 1800.2,803.4 1802.0,813.2 1803.8,828.1 1805.6,820.1 1807.4,813.4 1809.2,811.7 1811.0,832.5 1812.8,851.3 1814.6,858.8 1816.4,873.0 1818.2,894.0 1820.0,903.6 1821.8,903.9 1823.6,901.7 1825.4,913.2 1827.2,937.6 1829.0,936.6 1830.8,949.8 1832.6,955.2 1834.4,960.0 1836.2,972.9 1838.0,975.7 1839.8,985.1 1841.6,979.8 1843.4,990.2 1845.2,995.4 1847.0,988.2 1848.8,1002.9 1850.6,991.7 1852.4,972.9 1854.2,1001.7 1856.0,1017.8 1857.8,1002.8 1859.6,999.9 1861.4,999.2 1863.2,989.4 1865.0,1004.6 1866.8,1015.3 1868.6,1009.3 1870.4,1021.0 1872.2,1017.6 1874.0,978.2 1875.8,972.3 1877.6,982.8 1879.4,1000.5 1881.2,998.7 1883.0,983.9 1884.8,979.1 1886.6,993.7 1888.4,1008.8 1890.2,995.5 1892.0,995.5 1893.8,1007.3 1895.6,1002.1 1897.4,1002.2 1899.2,1019.2 1901.0,1014.5 1902.8,1003.5 1904.6,1007.2 1906.4,1015.8 1908.2,1010.9 1910.0,1014.0 1911.8,1021.2 1913.6,1011.9 1915.4,988.2 1917.2,990.7 1919.0,1000.8 1920.8,1010.9 1922.6,1024.4 1924.4,1028.6 1926.2,1013.7 1928.0,1007.9 1929.8,1014.1 1931.6,1020.1 1933.4,1036.3 1935.2,1030.8 1937.0,1026.7 1938.8,1028.4 1940.6,1015.7 1942.4,1012.0 1944.2,1015.7 1946.0,1025.9 1947.8,1033.0 1949.6,1028.9 1951.4,1021.5 1953.2,1013.2 1955.0,1013.1 1956.8,1014.7 1958.6,1019.8 1960.4,1011.6 1962.2,1012.7 1964.0,1020.9 1965.8,1023.9 1967.6,1014.8 1969.4,1012.8 1971.2,1008.0 1973.0,1009.4 1974.8,1026.8 1976.6,1021.3 1978.4,1002.6 1980.2,1004.7 1982.0,1013.9 1983.8,1005.5 1985.6,1002.3 1987.4,1012.3 1989.2,1003.1 1991.0,999.9 1992.8,1005.7 1994.6,1003.4 1996.4,1010.9 1998.2,1020.6 2000.0,1023.7 2001.8,1017.6 2003.6,1025.5 2005.4,1028.5 2007.2,1033.1 2009.0,1018.9 2010.8,1007.3 2012.6,1003.3 2014.4,1002.9 2016.2,1011.1 2018.0,1018.3 2019.8,1023.9 2021.6,1014.1 2023.4,1006.8 2025.2,1011.1 2027.0,1004.6 2028.8,1008.1 2030.6,1020.8 2032.4,1016.2 2034.2,1000.4 2036.0,1004.7 2037.8,1019.3 2039.6,1020.2 2041.4,1014.8 2043.2,1004.7 2045.0,979.9 2046.8,980.3 2048.6,977.5 2050.4,983.6 2052.2,995.9 2054.0,1011.1 2055.8,1024.5 2057.6,1024.7 2059.4,1017.2 2061.2,1015.3 2063.0,1023.9 2064.8,1010.8 2066.6,993.3 2068.4,1003.6 2070.2,1009.1 2072.0,1003.0 2073.8,1013.3 2075.6,1025.1 2077.4,1013.9 2079.2,1009.0 2081.0,1005.3 2082.8,995.8 2084.6,992.9 2086.4,990.8 2088.2,994.4 2090.0,999.4 2091.8,1007.8 2093.6,1004.5 2095.4,999.1 2097.2,983.7 2099.0,989.3 2100.8,999.0 2102.6,998.3 2104.4,988.7 2106.2,987.9 2108.0,988.4 2109.8,984.0 2111.6,984.0 2113.4,986.5" stroke="#ff0000" stroke-width="6.8"/>
<polyline points="218.0,739.3 219.8,719.0 221.6,726.7 223.4,743.5 225.2,751.7 227.0,739.3 228.8,725.8 230.6,724.1 232.4,732.3 234.2,728.8 236.0,720.2 237.8,719.4 239.6,723.3 241.4,728.5 243.2,723.2 245.0,727.9 246.8,729.8 248.6,718.7 250.4,707.6 252.2,715.1 254.0,707.6 255.8,708.2 257.6,697.6 259.4,691.5 261.2,709.9 263.0,716.6 264.8,713.8 266.6,711.8 268.4,703.9 270.2,704.9 272.0,722.6 273.8,745.1 275.6,737.9 277.4,724.1 279.2,724.2 281.0,718.0 282.8,719.7 284.6,727.3 286.4,716.3 288.2,702.2 290.0,711.0 291.8,725.0 293.6,733.6 295.4,737.2 297.2,726.3 299.0,730.4 300.8,729.8 302.6,727.0 304.4,733.2 306.2,729.2 308.0,723.5 309.8,728.9 311.6,720.8 313.4,726.3 315.2,733.0 317.0,734.0 318.8,727.5 320.6,728.7 322.4,732.9 324.2,735.3 326.0,724.1 327.8,722.7 329.6,718.3 331.4,723.0 333.2,748.3 335.0,729.5 336.8,713.0 338.6,723.2 340.4,711.4 342.2,718.4 344.0,725.8 345.8,718.7 347.6,720.5 349.4,725.7 351.2,725.1 353.0,711.6 354.8,713.0 356.6,729.8 358.4,744.6 360.2,751.8 362.0,760.4 363.8,750.6 365.6,736.6 367.4,729.7 369.2,715.0 371.0,717.0 372.8,724.6 374.6,736.7 376.4,740.1 378.2,729.3 380.0,719.3 381.8,713.2 383.6,725.2 385.4,733.4 387.2,732.6 389.0,732.4 390.8,753.9 392.6,751.1 394.4,732.0 396.2,723.4 398.0,725.9 399.8,731.5 401.6,735.0 403.4,741.8 405.2,749.4 407.0,754.5 408.8,746.3 410.6,732.0 412.4,729.0 414.2,724.6 416.0,731.2 417.8,750.2 419.6,747.4 421.4,756.7 423.2,745.6 425.0,748.9 426.8,759.3 428.6,755.0 430.4,752.8 432.2,746.0 434.0,740.9 435.8,739.4 437.6,741.8 439.4,753.8 441.2,746.4 443.0,737.1 444.8,707.6 446.6,721.0 448.4,734.6 450.2,736.2 452.0,746.5 453.8,743.6 455.6,735.2 457.4,745.5 459.2,761.7 461.0,742.6 462.8,731.8 464.6,728.1 466.4,728.6 468.2,724.2 470.0,742.4 471.8,771.4 473.6,764.0 475.4,752.3 477.2,756.0 479.0,761.3 480.8,759.3 482.6,769.7 484.4,763.9 486.2,756.9 488.0,751.9 489.8,723.0 491.6,728.8 493.4,740.6 495.2,736.5 497.0,737.9 498.8,736.4 500.6,746.8 502.4,774.4 504.2,762.4 506.0,750.3 507.8,753.0 509.6,744.6 511.4,746.0 513.2,748.3 515.0,747.2 516.8,731.7 518.6,739.3 520.4,737.2 522.2,730.8 524.0,738.6 525.8,735.8 527.6,747.3 529.4,743.6 531.2,736.4 533.0,731.7 534.8,725.7 536.6,708.0 538.4,712.8 540.2,713.4 542.0,714.8 543.8,711.8 545.6,704.5 547.4,694.7 549.2,711.4 551.0,703.4 552.8,672.7 554.6,654.2 556.4,648.9 558.2,649.2 560.0,632.3 561.8,591.8 563.6,569.7 565.4,554.6 567.2,539.1 569.0,530.5 570.8,533.9 572.6,528.6 574.4,541.1 576.2,537.2 578.0,519.3 579.8,521.6 581.6,546.2 583.4,570.9 585.2,567.3 587.0,569.7 588.8,595.4 590.6,612.9 592.4,624.9 594.2,650.6 596.0,657.0 597.8,659.5 599.6,661.5 601.4,672.9 603.2,675.3 605.0,669.9 606.8,687.3 608.6,689.2 610.4,700.2 612.2,710.8 614.0,738.2 615.8,738.3 617.6,736.7 619.4,727.7 621.2,698.9 623.0,695.6 624.8,712.7 626.6,734.4 628.4,739.7 630.2,748.7 632.0,745.1 633.8,729.3 635.6,741.2 637.4,752.8 639.2,726.5 641.0,705.7 642.8,719.7 644.6,730.2 646.4,735.0 648.2,729.8 650.0,726.2 651.8,718.8 653.6,743.7 655.4,762.5 657.2,748.3 659.0,723.1 660.8,714.7 662.6,699.7 664.4,719.4 666.2,725.5 668.0,721.1 669.8,730.5 671.6,737.7 673.4,743.1 675.2,737.4 677.0,726.1 678.8,705.9 680.6,707.5 682.4,720.0 684.2,727.3 686.0,731.1 687.8,733.7 689.6,716.9 691.4,715.6 693.2,721.0 695.0,722.4 696.8,724.8 698.6,723.4 700.4,730.7 702.2,722.2 704.0,722.7 705.8,719.9 707.6,718.3 709.4,701.5 711.2,702.7 713.0,699.7 714.8,701.1 716.6,698.9 718.4,673.9 720.2,660.0 722.0,667.1 723.8,673.3 725.6,661.8 727.4,664.6 729.2,652.3 731.0,645.1 732.8,650.5 734.6,649.7 736.4,636.0 738.2,625.0 740.0,614.5 741.8,587.2 743.6,549.5 745.4,542.9 747.2,538.9 749.0,530.4 750.8,512.4 752.6,468.0 754.4,420.0 756.2,375.3 758.0,347.3 759.8,320.2 761.6,278.3 763.4,220.7 765.2,183.7 767.0,159.7 768.8,132.3 770.6,85.1 772.4,47.7 774.2,30.0 776.0,28.4 777.8,41.7 779.6,76.8 781.4,116.0 783.2,153.3 785.0,191.0 786.8,220.5 788.6,261.2 790.4,299.9 792.2,344.3 794.0,389.0 795.8,408.4 797.6,421.7 799.4,455.9 801.2,482.1 803.0,507.9 804.8,542.3 806.6,589.9 808.4,616.5 810.2,618.8 812.0,637.4 813.8,645.4 815.6,636.2 817.4,645.9 819.2,657.3 821.0,658.1 822.8,650.5 824.6,668.9 826.4,693.6 828.2,709.1 830.0,710.7 831.8,701.2 833.6,713.2 835.4,702.6 837.2,688.9 839.0,699.2 840.8,701.8 842.6,706.3 844.4,710.7 846.2,720.5 848.0,717.5 849.8,717.7 851.6,728.0 853.4,728.4 855.2,730.3 857.0,741.3 858.8,735.1 860.6,729.5 862.4,728.0 864.2,725.0 866.0,743.1 867.8,760.3 869.6,746.3 871.4,738.8 873.2,731.1 875.0,741.3 876.8,762.1 878.6,759.6 880.4,746.6 882.2,744.7 884.0,739.4 885.8,736.6 887.6,736.2 889.4,742.8 891.2,758.0 893.0,766.3 894.8,764.0 896.6,752.0 898.4,738.6 900.2,740.3 902.0,740.8 903.8,753.4 905.6,757.0 907.4,754.7 909.2,740.5 911.0,734.8 912.8,760.8 914.6,766.7 916.4,751.2 918.2,762.9 920.0,775.2 921.8,768.9 923.6,780.5 925.4,763.5 927.2,755.4 929.0,768.3 930.8,760.8 932.6,751.9 934.4,751.8 936.2,743.7 938.0,761.7 939.8,757.2 941.6,758.7 943.4,761.4 945.2,769.9 947.0,770.5 948.8,759.9 950.6,761.5 952.4,751.8 954.2,742.0 956.0,740.7 957.8,735.8 959.6,744.8 961.4,762.5 963.2,765.7 965.0,773.5 966.8,768.2 968.6,750.5 970.4,742.0 972.2,757.2 974.0,769.6 975.8,767.8 977.6,765.2 979.4,768.8 981.2,750.6 983.0,751.5 984.8,775.2 986.6,795.4 988.4,775.8 990.2,758.6 992.0,766.6 993.8,771.8 995.6,768.5 997.4,752.4 999.2,745.3 1001.0,756.6 1002.8,770.6 1004.6,789.5 1006.4,790.4 1008.2,765.4 1010.0,757.1 1011.8,760.6 1013.6,762.3 1015.4,767.5 1017.2,768.3 1019.0,769.4 1020.8,773.8 1022.6,761.7 1024.4,744.8 1026.2,737.0 1028.0,738.3 1029.8,733.2 1031.6,731.2 1033.4,751.3 1035.2,752.5 1037.0,741.4 1038.8,729.1 1040.6,720.5 1042.4,732.6 1044.2,740.4 1046.0,713.2 1047.8,715.8 1049.6,718.7 1051.4,704.8 1053.2,692.1 1055.0,682.6 1056.8,663.5 1058.6,664.2 1060.4,659.9 1062.2,634.2 1064.0,629.3 1065.8,647.8 1067.6,667.2 1069.4,679.3 1071.2,676.2 1073.0,668.2 1074.8,674.3 1076.6,699.0 1078.4,710.8 1080.2,710.6 1082.0,724.7 1083.8,739.1 1085.6,744.5 1087.4,738.1 1089.2,743.4 1091.0,738.7 1092.8,745.9 1094.6,762.4 1096.4,793.1 1098.2,795.7 1100.0,786.6 1101.8,779.9 1103.6,778.4 1105.4,767.6 1107.2,773.4 1109.0,774.4 1110.8,797.5 1112.6,803.1 1114.4,785.5 1116.2,777.6 1118.0,793.5 1119.8,789.1 1121.6,784.2 1123.4,779.8 1125.2,769.3 1127.0,784.5 1128.8,798.2 1130.6,792.7 1132.4,782.7 1134.2,777.1 1136.0,786.5 1137.8,787.8 1139.6,782.8 1141.4,782.9 1143.2,798.7 1145.0,807.3 1146.8,802.9 1148.6,807.3 1150.4,814.2 1152.2,813.2 1154.0,796.4 1155.8,786.2 1157.6,785.3 1159.4,791.2 1161.2,799.1 1163.0,797.0 1164.8,784.5 1166.6,778.5 1168.4,777.6 1170.2,790.6 1172.0,788.6 1173.8,787.9 1175.6,782.5 1177.4,781.4 1179.2,787.7 1181.0,803.5 1182.8,795.3 1184.6,781.7 1186.4,772.0 1188.2,778.6 1190.0,796.2 1191.8,801.2 1193.6,778.2 1195.4,775.2 1197.2,784.2 1199.0,780.1 1200.8,775.4 1202.6,790.2 1204.4,794.1 1206.2,780.4 1208.0,790.1 1209.8,804.4 1211.6,802.9 1213.4,799.7 1215.2,816.0 1217.0,801.0 1218.8,786.5 1220.6,789.2 1222.4,782.3 1224.2,786.8 1226.0,781.7 1227.8,790.7 1229.6,792.7 1231.4,803.7 1233.2,805.1 1235.0,798.9 1236.8,797.5 1238.6,796.7 1240.4,783.5 1242.2,798.4 1244.0,811.7 1245.8,819.6 1247.6,831.2 1249.4,831.7 1251.2,832.0 1253.0,817.7 1254.8,813.4 1256.6,807.2 1258.4,789.7 1260.2,803.6 1262.0,790.8 1263.8,771.3 1265.6,783.8 1267.4,800.7 1269.2,806.9 1271.0,809.1 1272.8,812.8 1274.6,805.5 1276.4,793.2 1278.2,780.1 1280.0,798.1 1281.8,804.6 1283.6,783.5 1285.4,759.4 1287.2,770.4 1289.0,793.5 1290.8,783.4 1292.6,773.3 1294.4,777.1 1296.2,785.4 1298.0,775.0 1299.8,760.0 1301.6,754.6 1303.4,771.5 1305.2,784.0 1307.0,782.6 1308.8,785.5 1310.6,782.2 1312.4,779.2 1314.2,779.1 1316.0,781.9 1317.8,788.5 1319.6,781.6 1321.4,769.2 1323.2,769.5 1325.0,772.7 1326.8,778.9 1328.6,781.4 1330.4,778.7 1332.2,769.9 1334.0,784.5 1335.8,790.3 1337.6,778.0 1339.4,788.2 1341.2,781.4 1343.0,762.8 1344.8,754.6 1346.6,774.0 1348.4,770.7 1350.2,775.7 1352.0,783.2 1353.8,773.4 1355.6,766.9 1357.4,770.2 1359.2,783.1 1361.0,793.1 1362.8,792.5 1364.6,786.2 1366.4,778.3 1368.2,774.6 1370.0,776.9 1371.8,791.5 1373.6,776.1 1375.4,750.7 1377.2,765.1 1379.0,787.4 1380.8,776.9 1382.6,781.2 1384.4,789.3 1386.2,789.4 1388.0,811.7 1389.8,816.1 1391.6,800.6 1393.4,800.4 1395.2,784.8 1397.0,780.2 1398.8,790.4 1400.6,792.3 1402.4,788.7 1404.2,788.8 1406.0,770.8 1407.8,763.5 1409.6,769.9 1411.4,788.6 1413.2,799.1 1415.0,793.5 1416.8,781.5 1418.6,787.4 1420.4,784.8 1422.2,764.8 1424.0,767.6 1425.8,783.5 1427.6,788.1 1429.4,784.2 1431.2,782.3 1433.0,777.1 1434.8,769.8 1436.6,758.7 1438.4,747.1 1440.2,746.4 1442.0,754.6 1443.8,768.8 1445.6,753.3 1447.4,738.6 1449.2,731.3 1451.0,727.2 1452.8,725.5 1454.6,727.5 1456.4,725.1 1458.2,724.0 1460.0,716.6 1461.8,727.5 1463.6,734.8 1465.4,728.2 1467.2,740.6 1469.0,749.1 1470.8,747.9 1472.6,742.8 1474.4,743.7 1476.2,763.1 1478.0,754.8 1479.8,749.9 1481.6,756.8 1483.4,747.4 1485.2,764.3 1487.0,770.2 1488.8,768.6 1490.6,759.2 1492.4,745.5 1494.2,752.3 1496.0,778.6 1497.8,774.2 1499.6,774.3 1501.4,785.7 1503.2,774.5 1505.0,772.4 1506.8,775.6 1508.6,774.7 1510.4,768.1 1512.2,774.0 1514.0,788.3 1515.8,772.3 1517.6,740.2 1519.4,739.8 1521.2,765.9 1523.0,772.0 1524.8,774.1 1526.6,776.4 1528.4,765.5 1530.2,779.2 1532.0,781.6 1533.8,780.6 1535.6,780.5 1537.4,780.0 1539.2,769.0 1541.0,766.3 1542.8,774.7 1544.6,765.3 1546.4,755.9 1548.2,771.7 1550.0,777.0 1551.8,766.5 1553.6,746.8 1555.4,735.8 1557.2,721.8 1559.0,713.5 1560.8,720.0 1562.6,719.3 1564.4,716.8 1566.2,719.5 1568.0,689.9 1569.8,675.5 1571.6,678.0 1573.4,681.5 1575.2,663.9 1577.0,644.7 1578.8,629.9 1580.6,621.7 1582.4,624.4 1584.2,642.6 1586.0,648.1 1587.8,640.9 1589.6,632.5 1591.4,639.5 1593.2,607.9 1595.0,588.3 1596.8,604.7 1598.6,624.3 1600.4,632.7 1602.2,632.3 1604.0,653.3 1605.8,668.6 1607.6,654.9 1609.4,647.6 1611.2,654.1 1613.0,684.9 1614.8,708.8 1616.6,721.1 1618.4,731.6 1620.2,739.1 1622.0,736.5 1623.8,738.2 1625.6,730.1 1627.4,734.0 1629.2,745.4 1631.0,748.5 1632.8,764.5 1634.6,778.8 1636.4,770.9 1638.2,761.2 1640.0,767.9 1641.8,784.3 1643.6,774.4 1645.4,772.5 1647.2,771.7 1649.0,774.5 1650.8,777.2 1652.6,761.1 1654.4,757.0 1656.2,779.7 1658.0,783.6 1659.8,784.5 1661.6,784.4 1663.4,793.6 1665.2,803.6 1667.0,800.2 1668.8,783.5 1670.6,780.9 1672.4,789.1 1674.2,792.1 1676.0,787.3 1677.8,766.4 1679.6,750.4 1681.4,772.8 1683.2,785.9 1685.0,793.2 1686.8,804.1 1688.6,797.0 1690.4,786.9 1692.2,791.5 1694.0,789.9 1695.8,794.7 1697.6,788.8 1699.4,785.0 1701.2,781.2 1703.0,772.4 1704.8,761.4 1706.6,762.3 1708.4,756.2 1710.2,777.8 1712.0,799.9 1713.8,801.7 1715.6,783.7 1717.4,761.5 1719.2,760.1 1721.0,777.8 1722.8,766.3 1724.6,763.3 1726.4,746.4 1728.2,760.4 1730.0,774.3 1731.8,773.4 1733.6,766.3 1735.4,758.9 1737.2,763.3 1739.0,781.2 1740.8,782.1 1742.6,775.9 1744.4,773.8 1746.2,771.7 1748.0,788.1 1749.8,786.6 1751.6,764.2 1753.4,764.1 1755.2,767.0 1757.0,759.4 1758.8,773.0 1760.6,761.4 1762.4,735.6 1764.2,733.6 1766.0,725.1 1767.8,698.6 1769.6,694.8 1771.4,684.7 1773.2,673.9 1775.0,664.2 1776.8,638.2 1778.6,607.5 1780.4,594.0 1782.2,595.7 1784.0,587.2 1785.8,565.0 1787.6,544.6 1789.4,532.7 1791.2,527.6 1793.0,504.4 1794.8,478.2 1796.6,474.0 1798.4,479.5 1800.2,469.4 1802.0,472.2 1803.8,484.3 1805.6,497.0 1807.4,517.6 1809.2,525.5 1811.0,562.0 1812.8,575.2 1814.6,586.1 1816.4,610.4 1818.2,623.6 1820.0,654.6 1821.8,674.4 1823.6,675.6 1825.4,688.3 1827.2,705.6 1829.0,707.6 1830.8,717.2 1832.6,732.0 1834.4,741.7 1836.2,733.2 1838.0,739.6 1839.8,744.3 1841.6,723.7 1843.4,731.3 1845.2,729.0 1847.0,741.6 1848.8,776.8 1850.6,782.5 1852.4,786.1 1854.2,780.2 1856.0,781.8 1857.8,777.8 1859.6,777.3 1861.4,784.2 1863.2,795.7 1865.0,805.4 1866.8,793.1 1868.6,786.8 1870.4,781.4 1872.2,775.4 1874.0,769.3 1875.8,781.3 1877.6,776.2 1879.4,775.7 1881.2,782.0 1883.0,793.2 1884.8,794.1 1886.6,791.4 1888.4,794.4 1890.2,800.0 1892.0,805.8 1893.8,809.2 1895.6,818.2 1897.4,820.0 1899.2,803.2 1901.0,792.4 1902.8,817.3 1904.6,825.9 1906.4,803.6 1908.2,789.2 1910.0,785.9 1911.8,805.0 1913.6,810.2 1915.4,816.6 1917.2,795.4 1919.0,807.0 1920.8,820.3 1922.6,812.1 1924.4,808.9 1926.2,814.6 1928.0,810.1 1929.8,807.8 1931.6,807.2 1933.4,803.8 1935.2,807.5 1937.0,813.8 1938.8,807.4 1940.6,804.9 1942.4,803.7 1944.2,808.0 1946.0,801.4 1947.8,799.3 1949.6,774.1 1951.4,776.4 1953.2,791.7 1955.0,815.1 1956.8,814.1 1958.6,801.0 1960.4,809.3 1962.2,825.6 1964.0,820.6 1965.8,813.1 1967.6,795.7 1969.4,798.5 1971.2,828.5 1973.0,844.4 1974.8,827.9 1976.6,819.7 1978.4,813.7 1980.2,819.1 1982.0,808.8 1983.8,795.6 1985.6,787.4 1987.4,804.8 1989.2,824.3 1991.0,833.0 1992.8,821.4 1994.6,828.6 1996.4,822.7 1998.2,814.9 2000.0,802.7 2001.8,791.4 2003.6,803.7 2005.4,820.7 2007.2,805.9 2009.0,807.3 2010.8,813.3 2012.6,797.9 2014.4,810.6 2016.2,815.1 2018.0,820.5 2019.8,823.7 2021.6,813.0 2023.4,807.4 2025.2,810.8 2027.0,804.1 2028.8,788.3 2030.6,784.2 2032.4,788.4 2034.2,806.9 2036.0,802.7 2037.8,816.7 2039.6,838.9 2041.4,831.8 2043.2,814.0 2045.0,806.2 2046.8,810.2 2048.6,823.5 2050.4,821.7 2052.2,825.5 2054.0,837.5 2055.8,811.1 2057.6,801.6 2059.4,804.9 2061.2,810.3 2063.0,811.2 2064.8,809.9 2066.6,816.4 2068.4,813.3 2070.2,794.7 2072.0,779.0 2073.8,799.0 2075.6,797.5 2077.4,799.4 2079.2,804.9 2081.0,800.4 2082.8,806.4 2084.6,816.2 2086.4,819.3 2088.2,820.8 2090.0,814.9 2091.8,811.7 2093.6,807.1 2095.4,811.6 2097.2,815.6 2099.0,806.3 2100.8,794.5 2102.6,801.5 2104.4,810.3 2106.2,814.3 2108.0,800.1 2109.8,785.4 2111.6,783.9 2113.4,797.5" stroke="#000000" stroke-width="6.7"/>
</g>
<line x1="380.8" y1="1411.2" x2="380.8" y2="1425.2" stroke="#000" stroke-width="6.4" stroke-linecap="round"/>
<line x1="568.5" y1="1411.2" x2="568.5" y2="1439.9" stroke="#000" stroke-width="6.4" stroke-linecap="round"/>
<text transform="translate(568.90 1507.40) scale(0.9570 1)" font-size="63.00" text-anchor="middle" fill="#000" stroke="#000" stroke-width="0.80">30</text>
<line x1="756.2" y1="1411.2" x2="756.2" y2="1425.2" stroke="#000" stroke-width="6.4" stroke-linecap="round"/>
<line x1="944.0" y1="1411.2" x2="944.0" y2="1439.9" stroke="#000" stroke-width="6.4" stroke-linecap="round"/>
<text transform="translate(944.40 1507.40) scale(0.9570 1)" font-size="63.00" text-anchor="middle" fill="#000" stroke="#000" stroke-width="0.80">40</text>
<line x1="1131.8" y1="1411.2" x2="1131.8" y2="1425.2" stroke="#000" stroke-width="6.4" stroke-linecap="round"/>
<line x1="1319.5" y1="1411.2" x2="1319.5" y2="1439.9" stroke="#000" stroke-width="6.4" stroke-linecap="round"/>
<text transform="translate(1319.90 1507.40) scale(0.9570 1)" font-size="63.00" text-anchor="middle" fill="#000" stroke="#000" stroke-width="0.80">50</text>
<line x1="1507.2" y1="1411.2" x2="1507.2" y2="1425.2" stroke="#000" stroke-width="6.4" stroke-linecap="round"/>
<line x1="1695.0" y1="1411.2" x2="1695.0" y2="1439.9" stroke="#000" stroke-width="6.4" stroke-linecap="round"/>
<text transform="translate(1695.40 1507.40) scale(0.9570 1)" font-size="63.00" text-anchor="middle" fill="#000" stroke="#000" stroke-width="0.80">60</text>
<line x1="1882.8" y1="1411.2" x2="1882.8" y2="1425.2" stroke="#000" stroke-width="6.4" stroke-linecap="round"/>
<line x1="2070.5" y1="1411.2" x2="2070.5" y2="1439.9" stroke="#000" stroke-width="6.4" stroke-linecap="round"/>
<text transform="translate(2070.90 1507.40) scale(0.9570 1)" font-size="63.00" text-anchor="middle" fill="#000" stroke="#000" stroke-width="0.80">70</text>
<text transform="translate(82.00 662.30) rotate(-90) scale(0.9600 1)" font-size="76.40" text-anchor="middle" fill="#000" stroke="#000" stroke-width="0.80">Intensity (a.u.)</text>
<text transform="translate(1163.50 1621.20) scale(0.9660 1)" font-size="77.30" text-anchor="middle" fill="#000" stroke="#000" stroke-width="0.80">2theta(degree)</text>
<text transform="translate(256.00 849.30) scale(0.9660 1)" font-size="63.80" text-anchor="start" fill="#000" stroke="#000" stroke-width="0.80">MNPs</text>
<text transform="translate(236.00 1100.30) scale(0.9660 1)" font-size="63.80" text-anchor="start" fill="#ff0000" stroke="#ff0000" stroke-width="0.80">MNPs@Chi</text>
<text transform="translate(236.00 1342.00) scale(0.9660 1)" font-size="63.80" text-anchor="start" fill="#0000ff" stroke="#0000ff" stroke-width="0.80">MNPs@Chi-PANI</text>
<text transform="translate(606.30 370.80) rotate(-90) scale(0.9530 1)" font-size="63.40" text-anchor="middle" fill="#000" stroke="#000" stroke-width="0.80">(200)</text>
<text transform="translate(887.80 163.80) rotate(-90) scale(0.9530 1)" font-size="63.40" text-anchor="middle" fill="#000" stroke="#000" stroke-width="0.80">(331)</text>
<text transform="translate(1087.30 516.80) rotate(-90) scale(0.9530 1)" font-size="63.40" text-anchor="middle" fill="#000" stroke="#000" stroke-width="0.80">(400)</text>
<text transform="translate(1468.80 605.80) rotate(-90) scale(0.9530 1)" font-size="63.40" text-anchor="middle" fill="#000" stroke="#000" stroke-width="0.80">(422)</text>
<text transform="translate(1618.30 439.80) rotate(-90) scale(0.9530 1)" font-size="63.40" text-anchor="middle" fill="#000" stroke="#000" stroke-width="0.80">(551)</text>
<text transform="translate(1830.80 350.80) rotate(-90) scale(0.9530 1)" font-size="63.40" text-anchor="middle" fill="#000" stroke="#000" stroke-width="0.80">440</text>
<g><text transform="translate(1923.37 168.56) scale(0.6509 1)" font-size="117.11" fill="#000" stroke="#000" stroke-width="4.00" stroke-linejoin="round">(</text><text transform="translate(1958.08 171.62) scale(0.7981 1)" font-size="110.61" fill="#000" stroke="#000" stroke-width="2.00" stroke-linejoin="round">a</text><text transform="translate(2027.25 168.56) scale(0.6538 1)" font-size="117.11" fill="#000" stroke="#000" stroke-width="4.00" stroke-linejoin="round">)</text></g>
</g>
<g id="ftir">
<path d="M215.2,1761.8H2117.0V3176.8H215.2Z M221.0,1768.9H2111.1V3171.0H221.0Z" fill="#000" fill-rule="evenodd"/>
<clipPath id="cb"><rect x="218.1" y="1768.9" width="1893.0" height="1402.1"/></clipPath>
<g clip-path="url(#cb)" fill="none" stroke-linejoin="round" stroke-linecap="round">
<path d="M220.0,2781.5C229.2,2781.8 255.0,2783.2 275.0,2783.0C295.0,2782.8 324.2,2781.5 340.0,2780.0C355.8,2778.5 360.0,2776.9 370.0,2774.0C380.0,2771.1 391.2,2765.2 400.0,2762.5C408.8,2759.8 415.0,2757.8 422.5,2757.5C430.0,2757.2 437.1,2758.7 445.0,2761.0C452.9,2763.3 460.8,2766.5 470.0,2771.5C479.2,2776.5 490.0,2784.2 500.0,2791.0C510.0,2797.8 520.0,2806.0 530.0,2812.5C540.0,2819.0 550.8,2825.4 560.0,2830.0C569.2,2834.6 577.5,2837.1 585.0,2840.0C592.5,2842.9 598.3,2844.3 605.0,2847.5C611.7,2850.7 619.2,2855.5 625.0,2859.0C630.8,2862.5 635.4,2866.1 640.0,2868.5C644.6,2870.9 645.8,2872.0 652.5,2873.5C659.2,2875.0 669.6,2876.2 680.0,2877.5C690.4,2878.8 704.6,2879.5 715.0,2881.0C725.4,2882.5 734.2,2885.8 742.5,2886.5C750.8,2887.2 753.8,2884.9 765.0,2885.5C776.2,2886.1 800.0,2888.6 810.0,2890.0C820.0,2891.4 817.5,2892.8 825.0,2894.0C832.5,2895.2 844.2,2896.8 855.0,2897.5C865.8,2898.2 878.3,2898.2 890.0,2898.0C901.7,2897.8 914.0,2896.9 925.0,2896.5C936.0,2896.1 943.5,2895.9 956.0,2895.5C968.5,2895.1 986.8,2894.4 1000.0,2894.0C1013.2,2893.6 1022.5,2893.4 1035.0,2893.0C1047.5,2892.6 1063.3,2892.2 1075.0,2891.5C1086.7,2890.8 1097.9,2889.8 1105.0,2888.5C1112.1,2887.2 1114.6,2884.1 1117.5,2883.5C1120.4,2882.9 1120.8,2884.2 1122.5,2885.0C1124.2,2885.8 1125.6,2888.7 1127.5,2888.5C1129.4,2888.3 1130.2,2884.4 1134.0,2884.0C1137.8,2883.6 1141.5,2886.2 1150.0,2886.0C1158.5,2885.8 1171.7,2883.8 1185.0,2882.5C1198.3,2881.2 1215.8,2878.8 1230.0,2878.5C1244.2,2878.2 1259.2,2880.8 1270.0,2880.5C1280.8,2880.2 1286.7,2878.2 1295.0,2876.5C1303.3,2874.8 1314.2,2871.0 1320.0,2870.0C1325.8,2869.0 1326.7,2870.9 1330.0,2870.5C1333.3,2870.1 1333.3,2869.2 1340.0,2867.5C1346.7,2865.8 1361.7,2862.9 1370.0,2860.0C1378.3,2857.1 1383.3,2853.5 1390.0,2850.0C1396.7,2846.5 1403.3,2843.6 1410.0,2839.0C1416.7,2834.4 1423.3,2829.0 1430.0,2822.5C1436.7,2816.0 1443.3,2808.3 1450.0,2800.0C1456.7,2791.7 1464.6,2779.8 1470.0,2772.5C1475.4,2765.2 1478.8,2760.1 1482.5,2756.5C1486.2,2752.9 1489.6,2750.8 1492.5,2751.0C1495.4,2751.2 1497.1,2752.7 1500.0,2757.5C1502.9,2762.3 1506.2,2772.1 1510.0,2780.0C1513.8,2787.9 1519.0,2799.8 1522.5,2805.0C1526.0,2810.2 1528.5,2806.0 1531.0,2811.0C1533.5,2816.0 1535.2,2823.8 1537.5,2835.0C1539.8,2846.2 1542.5,2863.5 1545.0,2878.0C1547.5,2892.5 1550.2,2910.7 1552.5,2922.0C1554.8,2933.3 1557.2,2941.3 1559.0,2946.0C1560.8,2950.7 1561.4,2951.0 1563.0,2950.0C1564.6,2949.0 1566.3,2947.0 1568.5,2940.0C1570.7,2933.0 1573.8,2915.0 1576.0,2908.0C1578.2,2901.0 1579.8,2899.6 1581.5,2898.0C1583.2,2896.4 1584.4,2895.2 1586.0,2898.5C1587.6,2901.8 1589.3,2907.8 1591.0,2918.0C1592.7,2928.2 1594.3,2948.0 1596.0,2960.0C1597.7,2972.0 1599.4,2983.8 1601.0,2990.0C1602.6,2996.2 1604.0,2997.3 1605.5,2997.5C1607.0,2997.7 1608.0,2997.2 1610.0,2991.0C1612.0,2984.8 1614.8,2969.8 1617.5,2960.0C1620.2,2950.2 1623.3,2939.0 1626.0,2932.0C1628.7,2925.0 1630.7,2925.7 1633.5,2918.0C1636.3,2910.3 1639.9,2896.5 1643.0,2886.0C1646.1,2875.5 1649.2,2862.4 1652.0,2855.0C1654.8,2847.6 1657.4,2843.2 1659.5,2841.5C1661.6,2839.8 1662.8,2843.2 1664.5,2845.0C1666.2,2846.8 1667.8,2853.3 1669.5,2852.5C1671.2,2851.7 1673.1,2842.2 1674.5,2840.0C1675.9,2837.8 1676.8,2837.3 1678.0,2839.0C1679.2,2840.7 1680.1,2842.3 1682.0,2850.0C1683.9,2857.7 1687.0,2874.2 1689.5,2885.0C1692.0,2895.8 1694.5,2903.3 1697.0,2915.0C1699.5,2926.7 1702.4,2945.0 1704.5,2955.0C1706.6,2965.0 1708.1,2971.8 1709.5,2975.0C1710.9,2978.2 1711.6,2977.3 1713.0,2974.0C1714.4,2970.7 1716.1,2965.7 1718.0,2955.0C1719.9,2944.3 1722.3,2921.2 1724.5,2910.0C1726.7,2898.8 1728.5,2892.7 1731.0,2887.5C1733.5,2882.3 1736.8,2883.6 1739.5,2879.0C1742.2,2874.4 1744.5,2869.8 1747.0,2860.0C1749.5,2850.2 1752.2,2835.0 1754.5,2820.0C1756.8,2805.0 1759.2,2780.2 1761.0,2770.0C1762.8,2759.8 1764.1,2759.0 1765.5,2759.0C1766.9,2759.0 1768.0,2760.7 1769.5,2770.0C1771.0,2779.3 1772.4,2796.7 1774.5,2815.0C1776.6,2833.3 1779.5,2858.3 1782.0,2880.0C1784.5,2901.7 1787.0,2924.2 1789.5,2945.0C1792.0,2965.8 1794.5,2990.0 1797.0,3005.0C1799.5,3020.0 1802.0,3027.1 1804.5,3035.0C1807.0,3042.9 1809.1,3047.1 1812.0,3052.5C1814.9,3057.9 1818.7,3062.1 1822.0,3067.5C1825.3,3072.9 1828.7,3079.8 1832.0,3085.0C1835.3,3090.2 1838.2,3094.8 1842.0,3098.5C1845.8,3102.2 1851.6,3107.2 1854.5,3107.5C1857.4,3107.8 1857.4,3106.2 1859.5,3100.0C1861.6,3093.8 1864.5,3080.8 1867.0,3070.0C1869.5,3059.2 1872.0,3044.6 1874.5,3035.0C1877.0,3025.4 1879.5,3017.2 1882.0,3012.5C1884.5,3007.8 1887.4,3008.6 1889.5,3006.5C1891.6,3004.4 1892.4,3006.1 1894.5,3000.0C1896.6,2993.9 1899.1,2983.3 1902.0,2970.0C1904.9,2956.7 1908.7,2937.5 1912.0,2920.0C1915.3,2902.5 1919.1,2877.9 1922.0,2865.0C1924.9,2852.1 1927.4,2846.8 1929.5,2842.5C1931.6,2838.2 1932.8,2839.2 1934.5,2839.0C1936.2,2838.8 1937.8,2842.6 1939.5,2841.5C1941.2,2840.4 1942.8,2834.4 1944.5,2832.5C1946.2,2830.6 1947.4,2829.6 1949.5,2830.0C1951.6,2830.4 1954.5,2831.7 1957.0,2835.0C1959.5,2838.3 1962.0,2843.8 1964.5,2850.0C1967.0,2856.2 1970.1,2867.9 1972.0,2872.5C1973.9,2877.1 1974.3,2878.3 1976.0,2877.5C1977.7,2876.7 1979.8,2872.9 1982.0,2867.5C1984.2,2862.1 1987.0,2855.4 1989.5,2845.0C1992.0,2834.6 1994.5,2815.8 1997.0,2805.0C1999.5,2794.2 2002.6,2784.8 2004.5,2780.0C2006.4,2775.2 2007.1,2776.1 2008.5,2776.5C2009.9,2776.9 2011.2,2775.2 2013.0,2782.5C2014.8,2789.8 2017.2,2804.6 2019.5,2820.0C2021.8,2835.4 2024.1,2858.3 2027.0,2875.0C2029.9,2891.7 2034.1,2905.8 2037.0,2920.0C2039.9,2934.2 2042.4,2949.2 2044.5,2960.0C2046.6,2970.8 2047.4,2978.3 2049.5,2985.0C2051.6,2991.7 2054.5,2993.3 2057.0,3000.0C2059.5,3006.7 2062.4,3018.1 2064.5,3025.0C2066.6,3031.9 2068.1,3040.7 2069.5,3041.5C2070.9,3042.3 2071.9,3040.2 2073.0,3030.0C2074.1,3019.8 2074.9,2993.9 2076.0,2980.0C2077.1,2966.1 2078.5,2944.8 2079.5,2946.5C2080.5,2948.2 2081.2,2964.4 2082.0,2990.0C2082.8,3015.6 2083.7,3075.0 2084.5,3100.0C2085.3,3125.0 2086.0,3132.1 2087.0,3140.0C2088.0,3147.9 2089.2,3147.5 2090.5,3147.5C2091.8,3147.5 2092.8,3147.6 2094.5,3140.0C2096.2,3132.4 2099.0,3115.2 2100.8,3102.0C2102.7,3088.8 2104.4,3074.4 2105.6,3060.6C2106.8,3046.8 2107.1,3032.8 2107.7,3019.0C2108.3,3005.2 2108.7,2991.5 2109.1,2977.7C2109.5,2963.9 2109.6,2949.8 2110.0,2936.0C2110.4,2922.2 2110.9,2911.5 2111.7,2895.0C2112.5,2878.5 2113.6,2852.8 2114.7,2837.0C2115.8,2821.2 2117.4,2806.2 2118.0,2800.0" stroke="#ff0000" stroke-width="6.5"/>
<path d="M220.0,2553.5C233.3,2553.3 276.7,2553.1 300.0,2552.5C323.3,2551.9 341.7,2551.0 360.0,2550.0C378.3,2549.0 395.0,2547.2 410.0,2546.5C425.0,2545.8 438.3,2545.6 450.0,2546.0C461.7,2546.4 470.0,2547.3 480.0,2549.0C490.0,2550.7 500.0,2554.0 510.0,2556.0C520.0,2558.0 530.8,2559.9 540.0,2561.0C549.2,2562.1 556.7,2562.8 565.0,2562.5C573.3,2562.2 583.3,2560.4 590.0,2559.0C596.7,2557.6 600.4,2555.8 605.0,2554.0C609.6,2552.2 613.8,2549.5 617.5,2548.5C621.2,2547.5 624.6,2547.1 627.5,2548.0C630.4,2548.9 632.5,2551.6 635.0,2554.0C637.5,2556.4 639.6,2560.2 642.5,2562.5C645.4,2564.8 649.2,2567.1 652.5,2567.5C655.8,2567.9 658.3,2567.1 662.5,2565.0C666.7,2562.9 670.8,2556.8 677.5,2555.0C684.2,2553.2 695.8,2555.0 702.5,2554.0C709.2,2553.0 712.5,2549.5 717.5,2549.0C722.5,2548.5 728.3,2550.0 732.5,2551.0C736.7,2552.0 739.6,2554.5 742.5,2555.0C745.4,2555.5 746.7,2555.2 750.0,2554.0C753.3,2552.8 758.3,2548.2 762.5,2548.0C766.7,2547.8 770.8,2552.0 775.0,2552.5C779.2,2553.0 783.8,2550.6 787.5,2551.0C791.2,2551.4 794.2,2554.6 797.5,2555.0C800.8,2555.4 804.6,2552.0 807.5,2553.5C810.4,2555.0 812.2,2561.1 815.0,2564.0C817.8,2566.9 821.1,2571.0 824.0,2571.0C826.9,2571.0 829.4,2566.7 832.5,2564.0C835.6,2561.3 839.8,2556.8 842.5,2555.0C845.2,2553.2 846.9,2552.7 849.0,2553.5C851.1,2554.3 852.8,2557.5 855.0,2560.0C857.2,2562.5 859.2,2566.7 862.5,2568.5C865.8,2570.3 868.8,2569.8 875.0,2571.0C881.2,2572.2 890.8,2574.9 900.0,2576.0C909.2,2577.1 919.2,2576.7 930.0,2577.5C940.8,2578.3 954.2,2581.2 965.0,2581.0C975.8,2580.8 985.8,2576.8 995.0,2576.5C1004.2,2576.2 1010.0,2578.7 1020.0,2579.0C1030.0,2579.3 1043.3,2578.1 1055.0,2578.5C1066.7,2578.9 1079.2,2580.4 1090.0,2581.5C1100.8,2582.6 1112.1,2583.8 1120.0,2585.0C1127.9,2586.2 1130.0,2589.2 1137.5,2589.0C1145.0,2588.8 1157.1,2586.1 1165.0,2584.0C1172.9,2581.9 1178.3,2578.6 1185.0,2576.5C1191.7,2574.4 1200.0,2573.2 1205.0,2571.5C1210.0,2569.8 1211.7,2567.8 1215.0,2566.0C1218.3,2564.2 1221.7,2562.7 1225.0,2561.0C1228.3,2559.3 1232.1,2555.3 1235.0,2556.0C1237.9,2556.7 1238.8,2561.2 1242.5,2565.0C1246.2,2568.8 1251.7,2577.1 1257.5,2579.0C1263.3,2580.9 1272.5,2578.0 1277.5,2576.5C1282.5,2575.0 1284.6,2571.3 1287.5,2570.0C1290.4,2568.7 1292.5,2570.8 1295.0,2568.5C1297.5,2566.2 1300.0,2558.5 1302.5,2556.0C1305.0,2553.5 1307.1,2553.7 1310.0,2553.5C1312.9,2553.3 1317.5,2554.2 1320.0,2555.0C1322.5,2555.8 1322.9,2558.8 1325.0,2558.5C1327.1,2558.2 1330.0,2554.3 1332.5,2553.5C1335.0,2552.7 1337.5,2552.0 1340.0,2553.5C1342.5,2555.0 1345.0,2558.7 1347.5,2562.5C1350.0,2566.3 1351.2,2571.7 1355.0,2576.5C1358.8,2581.3 1364.6,2586.3 1370.0,2591.5C1375.4,2596.7 1380.8,2602.6 1387.5,2607.5C1394.2,2612.4 1402.9,2616.4 1410.0,2621.0C1417.1,2625.6 1423.3,2631.0 1430.0,2635.0C1436.7,2639.0 1442.5,2641.8 1450.0,2645.0C1457.5,2648.2 1467.5,2651.7 1475.0,2654.0C1482.5,2656.3 1489.6,2658.2 1495.0,2659.0C1500.4,2659.8 1503.8,2659.8 1507.5,2659.0C1511.2,2658.2 1514.8,2657.2 1517.5,2654.0C1520.2,2650.8 1522.2,2649.0 1524.0,2640.0C1525.8,2631.0 1527.2,2613.3 1528.5,2600.0C1529.8,2586.7 1530.6,2568.5 1531.5,2560.0C1532.4,2551.5 1533.0,2549.0 1534.0,2549.0C1535.0,2549.0 1536.1,2554.4 1537.5,2560.0C1538.9,2565.6 1540.4,2576.8 1542.5,2582.5C1544.6,2588.2 1547.5,2588.6 1550.0,2594.0C1552.5,2599.4 1555.0,2605.7 1557.5,2615.0C1560.0,2624.3 1562.6,2640.7 1565.0,2650.0C1567.4,2659.3 1570.0,2666.7 1572.0,2671.0C1574.0,2675.3 1575.3,2675.8 1577.0,2676.0C1578.7,2676.2 1579.9,2676.0 1582.0,2672.5C1584.1,2669.0 1587.2,2661.2 1589.5,2655.0C1591.8,2648.8 1594.1,2639.4 1596.0,2635.0C1597.9,2630.6 1599.3,2628.1 1601.0,2628.5C1602.7,2628.9 1603.8,2629.8 1606.0,2637.5C1608.2,2645.2 1611.4,2663.8 1614.5,2675.0C1617.6,2686.2 1621.2,2696.8 1624.5,2705.0C1627.8,2713.2 1631.2,2719.7 1634.5,2724.0C1637.8,2728.3 1641.2,2730.8 1644.5,2731.0C1647.8,2731.2 1651.2,2728.9 1654.5,2725.0C1657.8,2721.1 1661.2,2715.8 1664.5,2707.5C1667.8,2699.2 1671.2,2685.4 1674.5,2675.0C1677.8,2664.6 1681.2,2653.8 1684.5,2645.0C1687.8,2636.2 1692.0,2627.5 1694.5,2622.5C1697.0,2617.5 1697.8,2613.8 1699.5,2615.0C1701.2,2616.2 1702.4,2618.3 1704.5,2630.0C1706.6,2641.7 1709.8,2671.2 1712.0,2685.0C1714.2,2698.8 1716.5,2706.8 1718.0,2712.5C1719.5,2718.2 1719.5,2719.8 1721.0,2719.0C1722.5,2718.2 1724.8,2711.5 1727.0,2707.5C1729.2,2703.5 1732.4,2697.2 1734.5,2695.0C1736.6,2692.8 1737.4,2693.2 1739.5,2694.0C1741.6,2694.8 1744.5,2700.7 1747.0,2700.0C1749.5,2699.3 1752.2,2695.0 1754.5,2690.0C1756.8,2685.0 1759.1,2683.3 1761.0,2670.0C1762.9,2656.7 1764.6,2628.3 1766.0,2610.0C1767.4,2591.7 1768.2,2571.0 1769.5,2560.0C1770.8,2549.0 1771.8,2544.8 1773.5,2544.0C1775.2,2543.2 1777.2,2550.7 1779.5,2555.0C1781.8,2559.3 1784.5,2562.5 1787.0,2570.0C1789.5,2577.5 1792.2,2590.0 1794.5,2600.0C1796.8,2610.0 1798.9,2623.3 1801.0,2630.0C1803.1,2636.7 1804.8,2632.5 1807.0,2640.0C1809.2,2647.5 1812.0,2661.7 1814.5,2675.0C1817.0,2688.3 1819.5,2707.5 1822.0,2720.0C1824.5,2732.5 1826.6,2742.1 1829.5,2750.0C1832.4,2757.9 1836.6,2763.8 1839.5,2767.5C1842.4,2771.2 1844.9,2773.8 1847.0,2772.5C1849.1,2771.2 1850.5,2766.4 1852.0,2760.0C1853.5,2753.6 1854.8,2736.5 1856.0,2734.0C1857.2,2731.5 1858.2,2739.0 1859.5,2745.0C1860.8,2751.0 1862.2,2769.2 1863.5,2770.0C1864.8,2770.8 1865.8,2756.5 1867.0,2750.0C1868.2,2743.5 1869.2,2731.0 1870.5,2731.0C1871.8,2731.0 1873.0,2743.5 1874.5,2750.0C1876.0,2756.5 1877.4,2765.2 1879.5,2770.0C1881.6,2774.8 1883.2,2776.9 1887.0,2779.0C1890.8,2781.1 1897.4,2781.1 1902.0,2782.5C1906.6,2783.9 1910.8,2787.5 1914.5,2787.5C1918.2,2787.5 1921.6,2785.4 1924.5,2782.5C1927.4,2779.6 1929.9,2774.6 1932.0,2770.0C1934.1,2765.4 1935.3,2757.9 1937.0,2755.0C1938.7,2752.1 1939.9,2753.3 1942.0,2752.5C1944.1,2751.7 1947.0,2753.8 1949.5,2750.0C1952.0,2746.2 1954.1,2742.5 1957.0,2730.0C1959.9,2717.5 1963.7,2695.0 1967.0,2675.0C1970.3,2655.0 1974.1,2628.3 1977.0,2610.0C1979.9,2591.7 1982.4,2574.8 1984.5,2565.0C1986.6,2555.2 1987.8,2554.2 1989.5,2551.5C1991.2,2548.8 1992.6,2548.0 1994.5,2549.0C1996.4,2550.0 1998.9,2552.3 2001.0,2557.5C2003.1,2562.7 2004.8,2568.8 2007.0,2580.0C2009.2,2591.2 2012.0,2611.7 2014.5,2625.0C2017.0,2638.3 2019.8,2651.2 2022.0,2660.0C2024.2,2668.8 2025.9,2674.6 2028.0,2677.5C2030.1,2680.4 2032.6,2675.4 2034.5,2677.5C2036.4,2679.6 2038.0,2686.2 2039.5,2690.0C2041.0,2693.8 2042.2,2700.8 2043.5,2700.0C2044.8,2699.2 2046.0,2689.2 2047.0,2685.0C2048.0,2680.8 2048.5,2675.0 2049.5,2675.0C2050.5,2675.0 2051.8,2676.7 2053.0,2685.0C2054.2,2693.3 2055.5,2712.5 2057.0,2725.0C2058.5,2737.5 2060.3,2752.7 2062.0,2760.0C2063.7,2767.3 2065.3,2769.0 2067.0,2769.0C2068.7,2769.0 2070.5,2771.5 2072.0,2760.0C2073.5,2748.5 2074.6,2721.2 2076.0,2700.0C2077.4,2678.8 2079.2,2636.7 2080.5,2632.5C2081.8,2628.3 2082.4,2657.1 2083.5,2675.0C2084.6,2692.9 2085.8,2725.4 2087.0,2740.0C2088.2,2754.6 2089.7,2761.7 2091.0,2762.5C2092.3,2763.3 2093.7,2754.5 2095.0,2745.0C2096.3,2735.5 2097.1,2719.0 2098.8,2705.5C2100.5,2692.0 2103.5,2677.8 2105.0,2664.0C2106.5,2650.2 2107.1,2636.5 2107.9,2622.7C2108.7,2608.9 2109.1,2594.8 2109.7,2581.0C2110.3,2567.2 2110.7,2551.3 2111.5,2540.0C2112.3,2528.7 2113.6,2523.0 2114.7,2513.0C2115.8,2503.0 2117.4,2485.5 2118.0,2480.0" stroke="#008080" stroke-width="6.5"/>
<path d="M220.0,1866.0C233.3,1866.0 274.2,1866.6 300.0,1866.0C325.8,1865.4 356.7,1863.5 375.0,1862.5C393.3,1861.5 401.7,1860.0 410.0,1860.0C418.3,1860.0 418.3,1860.6 425.0,1862.5C431.7,1864.4 441.7,1867.8 450.0,1871.5C458.3,1875.2 466.7,1880.5 475.0,1885.0C483.3,1889.5 491.7,1894.3 500.0,1898.5C508.3,1902.7 516.7,1906.6 525.0,1910.0C533.3,1913.4 541.7,1916.5 550.0,1919.0C558.3,1921.5 566.7,1923.6 575.0,1925.0C583.3,1926.4 587.5,1926.9 600.0,1927.5C612.5,1928.1 633.3,1928.5 650.0,1928.5C666.7,1928.5 683.3,1928.2 700.0,1927.5C716.7,1926.8 737.9,1925.0 750.0,1924.0C762.1,1923.0 767.5,1921.3 772.5,1921.5C777.5,1921.7 777.9,1923.9 780.0,1925.0C782.1,1926.1 782.5,1928.4 785.0,1928.0C787.5,1927.6 790.8,1923.8 795.0,1922.5C799.2,1921.2 803.3,1920.2 810.0,1920.5C816.7,1920.8 828.3,1923.7 835.0,1924.0C841.7,1924.3 839.2,1922.9 850.0,1922.5C860.8,1922.1 875.0,1921.7 900.0,1921.5C925.0,1921.3 979.2,1921.2 1000.0,1921.5C1020.8,1921.8 1012.5,1922.0 1025.0,1923.0C1037.5,1924.0 1060.0,1926.2 1075.0,1927.5C1090.0,1928.8 1107.1,1929.9 1115.0,1931.0C1122.9,1932.1 1120.7,1932.7 1122.5,1934.0C1124.3,1935.3 1124.3,1938.7 1126.0,1939.0C1127.7,1939.3 1129.3,1936.0 1132.5,1936.0C1135.7,1936.0 1137.9,1938.5 1145.0,1939.0C1152.1,1939.5 1160.8,1938.4 1175.0,1939.0C1189.2,1939.6 1217.5,1940.7 1230.0,1942.5C1242.5,1944.3 1242.5,1948.1 1250.0,1950.0C1257.5,1951.9 1265.0,1953.3 1275.0,1954.0C1285.0,1954.7 1301.7,1953.6 1310.0,1954.0C1318.3,1954.4 1320.8,1956.1 1325.0,1956.5C1329.2,1956.9 1328.3,1955.2 1335.0,1956.5C1341.7,1957.8 1354.2,1962.3 1365.0,1964.0C1375.8,1965.7 1385.8,1966.1 1400.0,1966.5C1414.2,1966.9 1437.2,1967.0 1450.0,1966.5C1462.8,1966.0 1470.0,1963.6 1477.0,1963.5C1484.0,1963.4 1487.0,1964.2 1492.0,1966.0C1497.0,1967.8 1502.0,1971.4 1507.0,1974.0C1512.0,1976.6 1517.0,1981.5 1522.0,1981.5C1527.0,1981.5 1531.6,1976.2 1537.0,1974.0C1542.4,1971.8 1549.5,1969.2 1554.5,1968.5C1559.5,1967.8 1562.4,1969.1 1567.0,1970.0C1571.6,1970.9 1576.2,1974.2 1582.0,1974.0C1587.8,1973.8 1594.5,1971.5 1602.0,1968.5C1609.5,1965.5 1618.2,1960.3 1627.0,1956.0C1635.8,1951.7 1647.8,1944.3 1654.5,1942.5C1661.2,1940.7 1663.7,1945.4 1667.0,1945.0C1670.3,1944.6 1671.2,1941.0 1674.5,1940.0C1677.8,1939.0 1682.8,1940.0 1687.0,1939.0C1691.2,1938.0 1694.5,1937.8 1699.5,1934.0C1704.5,1930.2 1710.8,1920.4 1717.0,1916.0C1723.2,1911.6 1730.3,1910.8 1737.0,1907.5C1743.7,1904.2 1749.5,1900.4 1757.0,1896.0C1764.5,1891.6 1775.3,1884.1 1782.0,1881.0C1788.7,1877.9 1793.2,1878.9 1797.0,1877.5C1800.8,1876.1 1801.8,1873.3 1804.5,1872.5C1807.2,1871.7 1810.8,1870.8 1813.0,1872.5C1815.2,1874.2 1816.1,1877.9 1818.0,1882.5C1819.9,1887.1 1822.6,1898.3 1824.5,1900.0C1826.4,1901.7 1827.8,1895.4 1829.5,1892.5C1831.2,1889.6 1833.0,1883.8 1834.5,1882.5C1836.0,1881.2 1837.1,1880.4 1838.5,1885.0C1839.9,1889.6 1841.4,1901.8 1843.0,1910.0C1844.6,1918.2 1846.3,1933.2 1848.0,1934.0C1849.7,1934.8 1851.1,1921.9 1853.0,1915.0C1854.9,1908.1 1857.2,1897.8 1859.5,1892.5C1861.8,1887.2 1864.1,1885.3 1867.0,1883.5C1869.9,1881.7 1871.2,1881.5 1877.0,1881.5C1882.8,1881.5 1893.7,1882.9 1902.0,1883.5C1910.3,1884.1 1921.6,1883.1 1927.0,1885.0C1932.4,1886.9 1932.2,1891.2 1934.5,1895.0C1936.8,1898.8 1938.5,1907.1 1941.0,1907.5C1943.5,1907.9 1945.2,1900.4 1949.5,1897.5C1953.8,1894.6 1962.0,1892.9 1967.0,1890.0C1972.0,1887.1 1975.8,1884.0 1979.5,1880.0C1983.2,1876.0 1984.9,1868.3 1989.5,1866.0C1994.1,1863.7 2003.2,1863.7 2007.0,1866.0C2010.8,1868.3 2009.9,1871.8 2012.0,1880.0C2014.1,1888.2 2016.6,1900.8 2019.5,1915.0C2022.4,1929.2 2025.8,1949.2 2029.5,1965.0C2033.2,1980.8 2037.4,1995.0 2042.0,2010.0C2046.6,2025.0 2052.8,2043.2 2057.0,2055.0C2061.2,2066.8 2064.5,2078.5 2067.0,2081.0C2069.5,2083.5 2070.5,2083.5 2072.0,2070.0C2073.5,2056.5 2074.8,2027.9 2076.0,2000.0C2077.2,1972.1 2078.3,1906.7 2079.5,1902.5C2080.7,1898.3 2081.9,1942.1 2083.0,1975.0C2084.1,2007.9 2084.5,2071.7 2086.0,2100.0C2087.5,2128.3 2090.3,2141.7 2092.0,2145.0C2093.7,2148.3 2094.4,2134.1 2096.0,2120.0C2097.6,2105.9 2099.8,2084.2 2101.4,2060.5C2103.0,2036.8 2104.3,2005.3 2105.5,1977.7C2106.7,1950.1 2107.7,1922.6 2108.5,1895.0C2109.3,1867.4 2110.1,1832.3 2110.5,1812.0C2110.9,1791.7 2111.1,1781.7 2111.2,1773.0C2111.3,1764.3 2111.3,1762.2 2111.3,1760.0" stroke="#ff8000" stroke-width="6.5"/>
<path d="M220.0,2123.5C233.3,2123.9 274.2,2124.5 300.0,2126.0C325.8,2127.5 356.7,2130.6 375.0,2132.5C393.3,2134.4 400.8,2135.0 410.0,2137.5C419.2,2140.0 423.3,2142.9 430.0,2147.5C436.7,2152.1 442.5,2157.5 450.0,2165.0C457.5,2172.5 466.7,2182.5 475.0,2192.5C483.3,2202.5 491.7,2214.6 500.0,2225.0C508.3,2235.4 516.7,2246.7 525.0,2255.0C533.3,2263.3 543.3,2269.6 550.0,2275.0C556.7,2280.4 561.0,2284.6 565.0,2287.5C569.0,2290.4 571.1,2291.9 574.0,2292.5C576.9,2293.1 579.4,2292.1 582.5,2291.0C585.6,2289.9 589.2,2286.6 592.5,2286.0C595.8,2285.4 599.6,2287.0 602.5,2287.5C605.4,2288.0 607.1,2289.6 610.0,2289.0C612.9,2288.4 615.0,2288.0 620.0,2284.0C625.0,2280.0 632.5,2271.5 640.0,2265.0C647.5,2258.5 655.0,2254.2 665.0,2245.0C675.0,2235.8 690.0,2218.8 700.0,2210.0C710.0,2201.2 716.7,2199.6 725.0,2192.5C733.3,2185.4 742.5,2175.0 750.0,2167.5C757.5,2160.0 765.0,2151.4 770.0,2147.5C775.0,2143.6 776.7,2143.8 780.0,2144.0C783.3,2144.2 785.0,2143.4 790.0,2149.0C795.0,2154.6 804.2,2170.7 810.0,2177.5C815.8,2184.3 820.8,2185.8 825.0,2190.0C829.2,2194.2 832.2,2199.8 835.0,2202.5C837.8,2205.2 839.0,2207.3 841.5,2206.5C844.0,2205.7 846.5,2203.6 850.0,2197.5C853.5,2191.4 858.3,2177.1 862.5,2170.0C866.7,2162.9 868.8,2158.8 875.0,2155.0C881.2,2151.2 887.5,2149.9 900.0,2147.0C912.5,2144.1 935.0,2139.9 950.0,2137.5C965.0,2135.1 975.8,2133.5 990.0,2132.5C1004.2,2131.5 1020.8,2131.5 1035.0,2131.5C1049.2,2131.5 1060.8,2131.9 1075.0,2132.5C1089.2,2133.1 1108.3,2133.5 1120.0,2135.0C1131.7,2136.5 1135.0,2139.8 1145.0,2141.5C1155.0,2143.2 1166.7,2143.3 1180.0,2145.0C1193.3,2146.7 1215.4,2150.7 1225.0,2151.5C1234.6,2152.3 1231.7,2149.0 1237.5,2150.0C1243.3,2151.0 1250.4,2155.7 1260.0,2157.5C1269.6,2159.3 1284.2,2160.6 1295.0,2161.0C1305.8,2161.4 1318.3,2159.7 1325.0,2160.0C1331.7,2160.3 1328.3,2162.4 1335.0,2163.0C1341.7,2163.6 1349.2,2163.3 1365.0,2163.5C1380.8,2163.7 1412.5,2163.9 1430.0,2164.0C1447.5,2164.1 1461.2,2163.4 1470.0,2164.0C1478.8,2164.6 1479.2,2165.5 1482.5,2167.5C1485.8,2169.5 1487.5,2170.1 1490.0,2176.0C1492.5,2181.9 1495.0,2191.0 1497.5,2203.0C1500.0,2215.0 1502.8,2235.7 1505.0,2248.0C1507.2,2260.3 1508.9,2269.8 1511.0,2277.0C1513.1,2284.2 1515.2,2290.6 1517.5,2291.5C1519.8,2292.4 1522.8,2286.8 1525.0,2282.5C1527.2,2278.2 1529.2,2269.8 1531.0,2266.0C1532.8,2262.2 1534.1,2260.0 1536.0,2260.0C1537.9,2260.0 1540.2,2263.5 1542.5,2266.0C1544.8,2268.5 1547.4,2273.8 1550.0,2275.0C1552.6,2276.2 1554.7,2275.1 1558.0,2273.0C1561.3,2270.9 1566.3,2268.4 1570.0,2262.5C1573.7,2256.6 1576.5,2247.4 1580.0,2237.5C1583.5,2227.6 1587.5,2210.5 1591.0,2203.0C1594.5,2195.5 1598.1,2193.8 1601.0,2192.5C1603.9,2191.2 1605.3,2190.8 1608.5,2195.0C1611.7,2199.2 1616.1,2211.2 1620.0,2217.5C1623.9,2223.8 1628.8,2227.9 1632.0,2232.5C1635.2,2237.1 1637.4,2241.8 1639.5,2245.0C1641.6,2248.2 1642.8,2251.5 1644.5,2251.5C1646.2,2251.5 1647.8,2246.9 1649.5,2245.0C1651.2,2243.1 1652.8,2237.5 1654.5,2240.0C1656.2,2242.5 1657.8,2252.9 1659.5,2260.0C1661.2,2267.1 1663.1,2277.3 1664.5,2282.5C1665.9,2287.7 1666.6,2291.4 1668.0,2291.0C1669.4,2290.6 1671.1,2286.4 1673.0,2280.0C1674.9,2273.6 1677.2,2258.8 1679.5,2252.5C1681.8,2246.2 1684.5,2242.9 1687.0,2242.5C1689.5,2242.1 1692.2,2246.7 1694.5,2250.0C1696.8,2253.3 1698.9,2262.1 1701.0,2262.5C1703.1,2262.9 1704.3,2259.6 1707.0,2252.5C1709.7,2245.4 1714.1,2227.5 1717.0,2220.0C1719.9,2212.5 1722.0,2209.8 1724.5,2207.5C1727.0,2205.2 1729.1,2208.5 1732.0,2206.0C1734.9,2203.5 1737.8,2198.9 1742.0,2192.5C1746.2,2186.1 1752.0,2172.1 1757.0,2167.5C1762.0,2162.9 1768.7,2163.8 1772.0,2165.0C1775.3,2166.2 1775.3,2168.3 1777.0,2175.0C1778.7,2181.7 1780.3,2191.7 1782.0,2205.0C1783.7,2218.3 1785.5,2240.0 1787.0,2255.0C1788.5,2270.0 1789.8,2287.1 1791.0,2295.0C1792.2,2302.9 1792.8,2304.6 1794.0,2302.5C1795.2,2300.4 1797.2,2286.2 1798.5,2282.5C1799.8,2278.8 1800.6,2277.1 1802.0,2280.0C1803.4,2282.9 1804.9,2288.3 1807.0,2300.0C1809.1,2311.7 1812.0,2330.0 1814.5,2350.0C1817.0,2370.0 1819.5,2397.5 1822.0,2420.0C1824.5,2442.5 1827.0,2465.8 1829.5,2485.0C1832.0,2504.2 1834.9,2522.1 1837.0,2535.0C1839.1,2547.9 1840.2,2558.3 1842.0,2562.5C1843.8,2566.7 1846.3,2558.8 1848.0,2560.0C1849.7,2561.2 1850.5,2565.0 1852.0,2570.0C1853.5,2575.0 1855.3,2584.3 1857.0,2590.0C1858.7,2595.7 1860.3,2603.2 1862.0,2604.0C1863.7,2604.8 1864.9,2599.8 1867.0,2595.0C1869.1,2590.2 1872.0,2580.0 1874.5,2575.0C1877.0,2570.0 1879.9,2570.0 1882.0,2565.0C1884.1,2560.0 1885.3,2555.0 1887.0,2545.0C1888.7,2535.0 1890.3,2518.3 1892.0,2505.0C1893.7,2491.7 1895.3,2474.6 1897.0,2465.0C1898.7,2455.4 1899.9,2453.3 1902.0,2447.5C1904.1,2441.7 1907.0,2438.8 1909.5,2430.0C1912.0,2421.2 1914.9,2404.2 1917.0,2395.0C1919.1,2385.8 1920.5,2378.8 1922.0,2375.0C1923.5,2371.2 1924.5,2370.0 1926.0,2372.5C1927.5,2375.0 1929.4,2386.0 1931.0,2390.0C1932.6,2394.0 1934.1,2396.5 1935.5,2396.5C1936.9,2396.5 1938.0,2396.1 1939.5,2390.0C1941.0,2383.9 1942.4,2371.7 1944.5,2360.0C1946.6,2348.3 1949.5,2330.0 1952.0,2320.0C1954.5,2310.0 1956.2,2305.4 1959.5,2300.0C1962.8,2294.6 1967.6,2290.6 1972.0,2287.5C1976.4,2284.4 1981.8,2281.2 1986.0,2281.5C1990.2,2281.8 1993.5,2286.3 1997.0,2289.0C2000.5,2291.7 2003.7,2293.6 2007.0,2297.5C2010.3,2301.4 2013.2,2308.3 2017.0,2312.5C2020.8,2316.7 2025.8,2318.8 2029.5,2322.5C2033.2,2326.2 2036.2,2331.2 2039.5,2335.0C2042.8,2338.8 2047.0,2340.0 2049.5,2345.0C2052.0,2350.0 2052.8,2357.5 2054.5,2365.0C2056.2,2372.5 2058.0,2383.9 2059.5,2390.0C2061.0,2396.1 2062.1,2401.5 2063.5,2401.5C2064.9,2401.5 2066.6,2398.6 2068.0,2390.0C2069.4,2381.4 2070.7,2369.2 2072.0,2350.0C2073.3,2330.8 2074.8,2307.5 2076.0,2275.0C2077.2,2242.5 2078.3,2155.0 2079.5,2155.0C2080.7,2155.0 2081.9,2242.5 2083.0,2275.0C2084.1,2307.5 2084.9,2334.2 2086.0,2350.0C2087.1,2365.8 2088.3,2367.1 2089.5,2370.0C2090.7,2372.9 2091.8,2372.5 2093.0,2367.5C2094.2,2362.5 2095.9,2349.2 2097.0,2340.0C2098.1,2330.8 2098.8,2327.0 2099.8,2312.0C2100.8,2297.0 2102.2,2267.8 2102.9,2250.0C2103.6,2232.2 2103.6,2222.8 2104.1,2205.0C2104.6,2187.2 2105.4,2163.7 2106.0,2143.0C2106.6,2122.3 2107.2,2105.2 2107.9,2081.0C2108.6,2056.8 2109.7,2028.2 2110.3,1998.0C2110.9,1967.8 2111.4,1939.7 2111.7,1900.0C2112.0,1860.3 2112.1,1783.3 2112.2,1760.0" stroke="#9900ff" stroke-width="6.5"/>
</g>
<line x1="218.3" y1="3174.0" x2="218.3" y2="3201.2" stroke="#000" stroke-width="6.2" stroke-linecap="round"/>
<text transform="translate(218.30 3265.00) scale(1.0260 1)" font-size="58.00" text-anchor="middle" fill="#000" stroke="#000" stroke-width="0.80">4000</text>
<line x1="356.4" y1="3174.0" x2="356.4" y2="3186.0" stroke="#000" stroke-width="6.2" stroke-linecap="round"/>
<line x1="494.5" y1="3174.0" x2="494.5" y2="3201.2" stroke="#000" stroke-width="6.2" stroke-linecap="round"/>
<text transform="translate(494.50 3265.00) scale(1.0260 1)" font-size="58.00" text-anchor="middle" fill="#000" stroke="#000" stroke-width="0.80">3500</text>
<line x1="632.6" y1="3174.0" x2="632.6" y2="3186.0" stroke="#000" stroke-width="6.2" stroke-linecap="round"/>
<line x1="770.7" y1="3174.0" x2="770.7" y2="3201.2" stroke="#000" stroke-width="6.2" stroke-linecap="round"/>
<text transform="translate(770.70 3265.00) scale(1.0260 1)" font-size="58.00" text-anchor="middle" fill="#000" stroke="#000" stroke-width="0.80">3000</text>
<line x1="908.8" y1="3174.0" x2="908.8" y2="3186.0" stroke="#000" stroke-width="6.2" stroke-linecap="round"/>
<line x1="1046.9" y1="3174.0" x2="1046.9" y2="3201.2" stroke="#000" stroke-width="6.2" stroke-linecap="round"/>
<text transform="translate(1046.90 3265.00) scale(1.0260 1)" font-size="58.00" text-anchor="middle" fill="#000" stroke="#000" stroke-width="0.80">2500</text>
<line x1="1185.0" y1="3174.0" x2="1185.0" y2="3186.0" stroke="#000" stroke-width="6.2" stroke-linecap="round"/>
<line x1="1323.1" y1="3174.0" x2="1323.1" y2="3201.2" stroke="#000" stroke-width="6.2" stroke-linecap="round"/>
<text transform="translate(1323.10 3265.00) scale(1.0260 1)" font-size="58.00" text-anchor="middle" fill="#000" stroke="#000" stroke-width="0.80">2000</text>
<line x1="1461.2" y1="3174.0" x2="1461.2" y2="3186.0" stroke="#000" stroke-width="6.2" stroke-linecap="round"/>
<line x1="1599.3" y1="3174.0" x2="1599.3" y2="3201.2" stroke="#000" stroke-width="6.2" stroke-linecap="round"/>
<text transform="translate(1599.30 3265.00) scale(1.0260 1)" font-size="58.00" text-anchor="middle" fill="#000" stroke="#000" stroke-width="0.80">1500</text>
<line x1="1737.4" y1="3174.0" x2="1737.4" y2="3186.0" stroke="#000" stroke-width="6.2" stroke-linecap="round"/>
<line x1="1875.5" y1="3174.0" x2="1875.5" y2="3201.2" stroke="#000" stroke-width="6.2" stroke-linecap="round"/>
<text transform="translate(1875.50 3265.00) scale(1.0260 1)" font-size="58.00" text-anchor="middle" fill="#000" stroke="#000" stroke-width="0.80">1000</text>
<line x1="2013.6" y1="3174.0" x2="2013.6" y2="3186.0" stroke="#000" stroke-width="6.2" stroke-linecap="round"/>
<line x1="625.5" y1="1932.5" x2="625.5" y2="1977.5" stroke="#000" stroke-width="4.2" stroke-linecap="round"/>
<text transform="translate(637.00 2024.00) rotate(-90) scale(0.9300 1)" font-size="37.50" text-anchor="middle" fill="#000" stroke="#000" stroke-width="0.40">3300</text>
<line x1="843.5" y1="2212.5" x2="843.5" y2="2257.5" stroke="#000" stroke-width="4.2" stroke-linecap="round"/>
<text transform="translate(861.00 2307.50) rotate(-90) scale(0.9300 1)" font-size="37.50" text-anchor="middle" fill="#000" stroke="#000" stroke-width="0.40">2880</text>
<line x1="568.5" y1="2305.0" x2="568.5" y2="2352.5" stroke="#000" stroke-width="4.2" stroke-linecap="round"/>
<text transform="translate(578.50 2401.50) rotate(-90) scale(0.9300 1)" font-size="37.50" text-anchor="middle" fill="#000" stroke="#000" stroke-width="0.40">3450</text>
<line x1="565.0" y1="2562.5" x2="565.0" y2="2609.0" stroke="#000" stroke-width="4.2" stroke-linecap="round"/>
<text transform="translate(581.00 2657.50) rotate(-90) scale(0.9300 1)" font-size="37.50" text-anchor="middle" fill="#000" stroke="#000" stroke-width="0.40">3400</text>
<line x1="654.5" y1="2570.0" x2="654.5" y2="2616.5" stroke="#000" stroke-width="4.2" stroke-linecap="round"/>
<text transform="translate(671.00 2664.50) rotate(-90) scale(0.9300 1)" font-size="37.50" text-anchor="middle" fill="#000" stroke="#000" stroke-width="0.40">3210</text>
<line x1="825.0" y1="2572.5" x2="825.0" y2="2618.5" stroke="#000" stroke-width="4.2" stroke-linecap="round"/>
<text transform="translate(839.50 2667.50) rotate(-90) scale(0.9300 1)" font-size="37.50" text-anchor="middle" fill="#000" stroke="#000" stroke-width="0.40">2910</text>
<line x1="1522.0" y1="1990.0" x2="1522.0" y2="2036.5" stroke="#000" stroke-width="4.2" stroke-linecap="round"/>
<text transform="translate(1535.00 2089.50) rotate(-90) scale(0.9300 1)" font-size="37.50" text-anchor="middle" fill="#000" stroke="#000" stroke-width="0.40">1640</text>
<line x1="1518.0" y1="2299.0" x2="1518.0" y2="2345.0" stroke="#000" stroke-width="4.2" stroke-linecap="round"/>
<text transform="translate(1531.50 2397.50) rotate(-90) scale(0.9300 1)" font-size="37.50" text-anchor="middle" fill="#000" stroke="#000" stroke-width="0.40">1653</text>
<line x1="1559.0" y1="2285.0" x2="1559.0" y2="2331.5" stroke="#000" stroke-width="4.2" stroke-linecap="round"/>
<text transform="translate(1574.00 2384.00) rotate(-90) scale(0.9300 1)" font-size="37.50" text-anchor="middle" fill="#000" stroke="#000" stroke-width="0.40">1585</text>
<line x1="1666.5" y1="2302.5" x2="1666.5" y2="2347.5" stroke="#000" stroke-width="4.2" stroke-linecap="round"/>
<text transform="translate(1681.50 2397.00) rotate(-90) scale(0.9300 1)" font-size="37.50" text-anchor="middle" fill="#000" stroke="#000" stroke-width="0.40">1320</text>
<line x1="1792.0" y1="2322.5" x2="1792.0" y2="2368.5" stroke="#000" stroke-width="4.2" stroke-linecap="round"/>
<text transform="translate(1805.50 2415.00) rotate(-90) scale(0.9300 1)" font-size="37.50" text-anchor="middle" fill="#000" stroke="#000" stroke-width="0.40">1156</text>
<line x1="1506.0" y1="2661.0" x2="1506.0" y2="2707.5" stroke="#000" stroke-width="4.2" stroke-linecap="round"/>
<text transform="translate(1514.00 2591.50) rotate(-90) scale(0.9300 1)" font-size="37.50" text-anchor="middle" fill="#000" stroke="#000" stroke-width="0.40">1690</text>
<line x1="1575.5" y1="2683.5" x2="1575.5" y2="2731.0" stroke="#000" stroke-width="4.2" stroke-linecap="round"/>
<text transform="translate(1590.50 2781.00) rotate(-90) scale(0.9300 1)" font-size="37.50" text-anchor="middle" fill="#000" stroke="#000" stroke-width="0.40">1540</text>
<line x1="1645.0" y1="2735.0" x2="1645.0" y2="2781.5" stroke="#000" stroke-width="4.2" stroke-linecap="round"/>
<text transform="translate(1658.00 2827.50) rotate(-90) scale(0.9300 1)" font-size="37.50" text-anchor="middle" fill="#000" stroke="#000" stroke-width="0.40">1430</text>
<line x1="1721.5" y1="2720.0" x2="1721.5" y2="2765.0" stroke="#000" stroke-width="5.6" stroke-linecap="round"/>
<text transform="translate(1734.00 2815.00) rotate(-90) scale(0.9300 1)" font-size="37.50" text-anchor="middle" fill="#000" stroke="#000" stroke-width="0.40">1290</text>
<line x1="1754.5" y1="2702.5" x2="1754.5" y2="2748.5" stroke="#000" stroke-width="5.4" stroke-linecap="round"/>
<text transform="translate(1763.00 2640.00) rotate(-90) scale(0.9300 1)" font-size="37.50" text-anchor="middle" fill="#000" stroke="#000" stroke-width="0.40">1240</text>
<line x1="1863.0" y1="2607.5" x2="1863.0" y2="2654.0" stroke="#000" stroke-width="4.2" stroke-linecap="round"/>
<text transform="translate(1878.00 2692.00) rotate(-90) scale(0.9300 1)" font-size="37.50" text-anchor="middle" fill="#000" stroke="#000" stroke-width="0.40">1032</text>
<line x1="1918.0" y1="2792.5" x2="1918.0" y2="2839.0" stroke="#000" stroke-width="4.2" stroke-linecap="round"/>
<text transform="translate(1923.00 2732.00) rotate(-90) scale(0.9300 1)" font-size="37.50" text-anchor="middle" fill="#000" stroke="#000" stroke-width="0.40">900</text>
<line x1="1839.0" y1="2774.0" x2="1839.0" y2="2820.0" stroke="#000" stroke-width="4.2" stroke-linecap="round"/>
<text transform="translate(1853.00 2867.00) rotate(-90) scale(0.9300 1)" font-size="37.50" text-anchor="middle" fill="#000" stroke="#000" stroke-width="0.40">1100</text>
<line x1="2093.0" y1="2146.5" x2="2093.0" y2="2192.5" stroke="#000" stroke-width="4.2" stroke-linecap="round"/>
<text transform="translate(2058.00 2182.00) rotate(-90) scale(0.9300 1)" font-size="37.50" text-anchor="middle" fill="#000" stroke="#000" stroke-width="0.40">600</text>
<line x1="1558.0" y1="2964.0" x2="1558.0" y2="3010.0" stroke="#000" stroke-width="4.2" stroke-linecap="round"/>
<text transform="translate(1574.00 3057.50) rotate(-90) scale(0.9300 1)" font-size="37.50" text-anchor="middle" fill="#000" stroke="#000" stroke-width="0.40">1570</text>
<line x1="1605.5" y1="3009.0" x2="1605.5" y2="3055.0" stroke="#000" stroke-width="4.2" stroke-linecap="round"/>
<text transform="translate(1618.00 3101.50) rotate(-90) scale(0.9300 1)" font-size="37.50" text-anchor="middle" fill="#000" stroke="#000" stroke-width="0.40">1490</text>
<line x1="1709.5" y1="2992.5" x2="1709.5" y2="3038.5" stroke="#000" stroke-width="4.2" stroke-linecap="round"/>
<text transform="translate(1726.50 3085.00) rotate(-90) scale(0.9300 1)" font-size="37.50" text-anchor="middle" fill="#000" stroke="#000" stroke-width="0.40">1300</text>
<line x1="1858.0" y1="3113.5" x2="1858.0" y2="3160.0" stroke="#000" stroke-width="4.2" stroke-linecap="round"/>
<text transform="translate(1824.00 3122.50) rotate(-90) scale(0.9300 1)" font-size="37.50" text-anchor="middle" fill="#000" stroke="#000" stroke-width="0.40">1040</text>
<line x1="1898.0" y1="3016.0" x2="1898.0" y2="3062.5" stroke="#000" stroke-width="4.2" stroke-linecap="round"/>
<text transform="translate(1914.50 3119.50) rotate(-90) scale(0.9300 1)" font-size="37.50" text-anchor="middle" fill="#000" stroke="#000" stroke-width="0.40">960</text>
<line x1="2093.5" y1="3091.0" x2="2093.5" y2="3139.5" stroke="#000" stroke-width="4.2" stroke-linecap="round"/>
<text transform="translate(2103.00 2911.00) rotate(-90) scale(0.9300 1)" font-size="37.50" text-anchor="middle" fill="#000" stroke="#000" stroke-width="0.40">600</text>
<text transform="translate(102.70 2423.30) rotate(-90) scale(0.9960 1)" font-size="72.70" text-anchor="middle" fill="#000" stroke="#000" stroke-width="0.80">Intensity (a.u.)</text>
<text transform="translate(1164.50 3392.00) scale(0.9660 1)" font-size="75.50" text-anchor="middle" fill="#000" stroke="#000" stroke-width="0.80">Wavenumber (cm<tspan dy="-28" font-size="46">-1</tspan><tspan dy="28">)</tspan></text>
<text transform="translate(263.00 1941.30) scale(0.9850 1)" font-size="60.80" text-anchor="start" fill="#000" stroke="#000" stroke-width="0.80">MNPs</text>
<text transform="translate(250.00 2220.30) scale(0.9850 1)" font-size="60.80" text-anchor="start" fill="#000" stroke="#000" stroke-width="0.80">Chi</text>
<text transform="translate(244.60 2661.20) scale(0.9980 1)" font-size="60.80" text-anchor="start" fill="#000" stroke="#000" stroke-width="0.80">PANI</text>
<text transform="translate(225.50 3095.80) scale(0.9810 1)" font-size="60.80" text-anchor="start" fill="#000" stroke="#000" stroke-width="0.80">MNPs@Chi/PANI</text>
<g><text transform="translate(1872.56 2059.32) scale(0.6553 1)" font-size="116.78" fill="#000" stroke="#000" stroke-width="4.00" stroke-linejoin="round">(</text><text transform="translate(1907.80 2063.36) scale(0.9611 1)" font-size="121.74" fill="#000" stroke="#000" stroke-width="0.50" stroke-linejoin="round">b</text><text transform="translate(1981.94 2059.32) scale(0.6469 1)" font-size="116.78" fill="#000" stroke="#000" stroke-width="4.00" stroke-linejoin="round">)</text></g>
</g>
</svg></body></html>
